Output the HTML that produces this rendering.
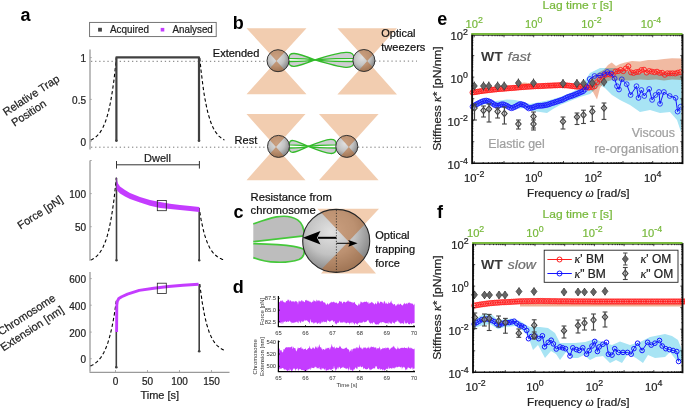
<!DOCTYPE html>
<html><head><meta charset="utf-8"><style>
html,body{margin:0;padding:0;background:#fff;}
svg{display:block;font-family:"Liberation Sans",sans-serif;}
</style></head><body>
<svg width="685" height="409" viewBox="0 0 685 409">
<defs>
<radialGradient id="gbead" cx="0.42" cy="0.36" r="0.72">
<stop offset="0" stop-color="#e2e2e2"/><stop offset="0.5" stop-color="#c2c2c2"/><stop offset="1" stop-color="#747474"/>
</radialGradient>
</defs>
<rect width="685" height="409" fill="#fff"/>
<text x="20.5" y="21.4" font-size="18" font-weight="bold" fill="#000">a</text>
<text x="232.8" y="29.0" font-size="18" font-weight="bold" fill="#000">b</text>
<text x="233.5" y="218.0" font-size="18" font-weight="bold" fill="#000">c</text>
<text x="232.8" y="293.3" font-size="18" font-weight="bold" fill="#000">d</text>
<text x="437.2" y="24.9" font-size="18" font-weight="bold" fill="#000">e</text>
<text x="437.0" y="217.8" font-size="18" font-weight="bold" fill="#000">f</text>
<rect x="89.6" y="22.4" width="126.6" height="14.2" fill="#fff" stroke="#666" stroke-width="0.9"/>
<rect x="98.1" y="27.8" width="3.8" height="3.8" fill="#444"/>
<rect x="160.7" y="27.9" width="3.6" height="3.6" fill="#c43cff"/>
<text x="110.0" y="32.8" font-size="10.0" text-anchor="start" fill="#222" font-weight="normal" font-style="normal" textLength="38.9" lengthAdjust="spacingAndGlyphs" stroke="#222" stroke-width="0.22">Acquired</text>
<text x="172.5" y="32.8" font-size="10.0" text-anchor="start" fill="#222" font-weight="normal" font-style="normal" textLength="40.3" lengthAdjust="spacingAndGlyphs" stroke="#222" stroke-width="0.22">Analysed</text>
<line x1="90.0" y1="49.4" x2="90.0" y2="149.4" stroke="#9a9a9a" stroke-width="1.3"/>
<line x1="90.0" y1="57.6" x2="91.8" y2="57.6" stroke="#9a9a9a" stroke-width="0.8"/>
<line x1="90.0" y1="99.4" x2="91.8" y2="99.4" stroke="#9a9a9a" stroke-width="0.8"/>
<line x1="90.0" y1="141.2" x2="91.8" y2="141.2" stroke="#9a9a9a" stroke-width="0.8"/>
<text x="86.0" y="62.1" font-size="10.0" text-anchor="end" fill="#222" font-weight="normal" font-style="normal" stroke="#222" stroke-width="0.22">1</text>
<text x="86.0" y="103.9" font-size="10.0" text-anchor="end" fill="#222" font-weight="normal" font-style="normal" stroke="#222" stroke-width="0.22">0.5</text>
<text x="86.0" y="145.7" font-size="10.0" text-anchor="end" fill="#222" font-weight="normal" font-style="normal" stroke="#222" stroke-width="0.22">0</text>
<line x1="90.0" y1="160.5" x2="90.0" y2="260.8" stroke="#9a9a9a" stroke-width="1.3"/>
<line x1="90.0" y1="160.5" x2="91.8" y2="160.5" stroke="#9a9a9a" stroke-width="0.8"/>
<line x1="90.0" y1="193.6" x2="91.8" y2="193.6" stroke="#9a9a9a" stroke-width="0.8"/>
<line x1="90.0" y1="226.7" x2="91.8" y2="226.7" stroke="#9a9a9a" stroke-width="0.8"/>
<text x="86.0" y="198.1" font-size="10.0" text-anchor="end" fill="#222" font-weight="normal" font-style="normal" stroke="#222" stroke-width="0.22">100</text>
<text x="86.0" y="231.2" font-size="10.0" text-anchor="end" fill="#222" font-weight="normal" font-style="normal" stroke="#222" stroke-width="0.22">50</text>
<line x1="90.0" y1="272.0" x2="90.0" y2="371.7" stroke="#9a9a9a" stroke-width="1.3"/>
<line x1="90.0" y1="278.6" x2="91.8" y2="278.6" stroke="#9a9a9a" stroke-width="0.8"/>
<line x1="90.0" y1="305.2" x2="91.8" y2="305.2" stroke="#9a9a9a" stroke-width="0.8"/>
<line x1="90.0" y1="332.1" x2="91.8" y2="332.1" stroke="#9a9a9a" stroke-width="0.8"/>
<line x1="90.0" y1="358.7" x2="91.8" y2="358.7" stroke="#9a9a9a" stroke-width="0.8"/>
<text x="86.0" y="283.1" font-size="10.0" text-anchor="end" fill="#222" font-weight="normal" font-style="normal" stroke="#222" stroke-width="0.22">600</text>
<text x="86.0" y="309.7" font-size="10.0" text-anchor="end" fill="#222" font-weight="normal" font-style="normal" stroke="#222" stroke-width="0.22">400</text>
<text x="86.0" y="336.6" font-size="10.0" text-anchor="end" fill="#222" font-weight="normal" font-style="normal" stroke="#222" stroke-width="0.22">200</text>
<text x="86.0" y="363.2" font-size="10.0" text-anchor="end" fill="#222" font-weight="normal" font-style="normal" stroke="#222" stroke-width="0.22">0</text>
<line x1="89.5" y1="372.3" x2="229.5" y2="372.3" stroke="#9a9a9a" stroke-width="1.2"/>
<line x1="115.5" y1="372" x2="115.5" y2="370" stroke="#9a9a9a" stroke-width="0.8"/>
<text x="115.5" y="385.2" font-size="10.0" text-anchor="middle" fill="#222" font-weight="normal" font-style="normal" stroke="#222" stroke-width="0.22">0</text>
<line x1="147.5" y1="372" x2="147.5" y2="370" stroke="#9a9a9a" stroke-width="0.8"/>
<text x="147.5" y="385.2" font-size="10.0" text-anchor="middle" fill="#222" font-weight="normal" font-style="normal" stroke="#222" stroke-width="0.22">50</text>
<line x1="179.5" y1="372" x2="179.5" y2="370" stroke="#9a9a9a" stroke-width="0.8"/>
<text x="179.5" y="385.2" font-size="10.0" text-anchor="middle" fill="#222" font-weight="normal" font-style="normal" stroke="#222" stroke-width="0.22">100</text>
<line x1="211.5" y1="372" x2="211.5" y2="370" stroke="#9a9a9a" stroke-width="0.8"/>
<text x="211.5" y="385.2" font-size="10.0" text-anchor="middle" fill="#222" font-weight="normal" font-style="normal" stroke="#222" stroke-width="0.22">150</text>
<text x="159.8" y="399.2" font-size="11.0" text-anchor="middle" fill="#222" font-weight="normal" font-style="normal" stroke="#222" stroke-width="0.22">Time [s]</text>
<text transform="translate(6.0,116.0) rotate(-33.0)" font-size="11.0" fill="#222" stroke="#222" stroke-width="0.22">Relative Trap</text>
<text transform="translate(14.4,126.8) rotate(-33.0)" font-size="11.0" fill="#222" stroke="#222" stroke-width="0.22">Position</text>
<text transform="translate(20.6,229.4) rotate(-33.0)" font-size="11.0" fill="#222" stroke="#222" stroke-width="0.22">Force [pN]</text>
<text transform="translate(1.0,335.8) rotate(-33.0)" font-size="11.0" fill="#222" stroke="#222" stroke-width="0.22">Chromosome</text>
<text transform="translate(3.6,351.4) rotate(-33.0)" font-size="11.0" fill="#222" stroke="#222" stroke-width="0.22">Extension [nm]</text>
<line x1="91.0" y1="61.3" x2="268.0" y2="61.3" stroke="#777" stroke-width="1" stroke-dasharray="1.3,2.8"/>
<line x1="375.0" y1="61.1" x2="417.0" y2="61.1" stroke="#777" stroke-width="1" stroke-dasharray="1.3,2.8"/>
<line x1="91.0" y1="147.2" x2="268.0" y2="147.2" stroke="#777" stroke-width="1" stroke-dasharray="1.3,2.8"/>
<line x1="358.0" y1="147.2" x2="421.0" y2="147.2" stroke="#777" stroke-width="1" stroke-dasharray="1.3,2.8"/>
<polyline points="90.8,140.0 91.4,139.7 92.1,139.4 92.7,139.0 93.3,138.7 94.0,138.3 94.6,137.8 95.3,137.4 95.9,136.9 96.5,136.3 97.2,135.7 97.8,135.0 98.5,134.3 99.1,133.6 99.7,132.8 100.4,131.9 101.0,130.9 101.6,129.8 102.3,128.7 102.9,127.5 103.5,126.2 104.2,124.7 104.8,123.2 105.5,121.5 106.1,119.6 106.7,117.6 107.4,115.5 108.0,113.2 108.7,110.7 109.3,107.9 109.9,105.0 110.6,101.8 111.2,98.3 111.8,94.6 112.5,90.5 113.1,86.1 113.8,81.3 114.4,76.2 115.0,70.6 115.7,64.6 116.3,58.0" fill="none" stroke="#000" stroke-width="1.1" stroke-dasharray="3.4,2.4"/>
<polyline points="199.8,58.0 200.4,64.4 201.0,70.3 201.7,75.8 202.3,80.8 202.9,85.5 203.5,89.8 204.1,93.9 204.7,97.6 205.4,101.0 206.0,104.2 206.6,107.2 207.2,109.9 207.8,112.4 208.4,114.8 209.1,116.9 209.7,118.9 210.3,120.8 210.9,122.5 211.5,124.1 212.2,125.6 212.8,126.9 213.4,128.2 214.0,129.4 214.6,130.4 215.2,131.4 215.9,132.4 216.5,133.2 217.1,134.0 217.7,134.8 218.3,135.4 218.9,136.1 219.6,136.7 220.2,137.2 220.8,137.7 221.4,138.2 222.0,138.6 222.6,139.0 223.3,139.3 223.9,139.7 224.5,140.0" fill="none" stroke="#000" stroke-width="1.1" stroke-dasharray="3.4,2.4"/>
<polyline points="90.8,260.0 91.4,259.7 92.1,259.4 92.7,259.0 93.3,258.7 94.0,258.3 94.6,257.8 95.3,257.3 95.9,256.8 96.5,256.3 97.2,255.7 97.8,255.0 98.5,254.3 99.1,253.5 99.7,252.7 100.4,251.8 101.0,250.8 101.6,249.8 102.3,248.6 102.9,247.4 103.5,246.1 104.2,244.6 104.8,243.0 105.5,241.3 106.1,239.5 106.7,237.5 107.4,235.4 108.0,233.0 108.7,230.5 109.3,227.7 109.9,224.8 110.6,221.5 111.2,218.1 111.8,214.3 112.5,210.2 113.1,205.8 113.8,201.0 114.4,195.8 115.0,190.2 115.7,184.1 116.3,177.5" fill="none" stroke="#000" stroke-width="1.1" stroke-dasharray="3.4,2.4"/>
<polyline points="199.8,212.0 200.4,215.7 201.0,219.2 201.7,222.4 202.3,225.4 202.9,228.1 203.5,230.6 204.1,233.0 204.7,235.2 205.4,237.2 206.0,239.1 206.6,240.8 207.2,242.4 207.8,243.9 208.4,245.2 209.1,246.5 209.7,247.7 210.3,248.8 210.9,249.8 211.5,250.7 212.2,251.6 212.8,252.4 213.4,253.1 214.0,253.8 214.6,254.4 215.2,255.0 215.9,255.5 216.5,256.0 217.1,256.5 217.7,256.9 218.3,257.3 218.9,257.7 219.6,258.0 220.2,258.4 220.8,258.6 221.4,258.9 222.0,259.2 222.6,259.4 223.3,259.6 223.9,259.8 224.5,260.0" fill="none" stroke="#000" stroke-width="1.1" stroke-dasharray="3.4,2.4"/>
<polyline points="90.4,366.0 91.0,365.7 91.7,365.4 92.3,365.1 93.0,364.7 93.6,364.3 94.3,363.9 94.9,363.4 95.6,363.0 96.2,362.4 96.9,361.9 97.5,361.3 98.2,360.6 98.8,360.0 99.5,359.2 100.1,358.4 100.8,357.6 101.4,356.6 102.1,355.6 102.7,354.6 103.3,353.4 104.0,352.2 104.6,350.9 105.3,349.5 105.9,348.0 106.6,346.3 107.2,344.6 107.9,342.7 108.5,340.6 109.2,338.4 109.8,336.1 110.5,333.6 111.1,330.9 111.8,328.0 112.4,324.8 113.1,321.5 113.7,317.9 114.4,314.0 115.0,309.8 115.7,305.3 116.3,300.5" fill="none" stroke="#000" stroke-width="1.1" stroke-dasharray="3.4,2.4"/>
<polyline points="199.8,284.0 200.4,289.3 201.1,294.1 201.7,298.6 202.3,302.8 203.0,306.6 203.6,310.2 204.2,313.4 204.8,316.5 205.5,319.3 206.1,321.9 206.7,324.3 207.4,326.5 208.0,328.5 208.6,330.4 209.2,332.2 209.9,333.8 210.5,335.3 211.1,336.6 211.8,337.9 212.4,339.1 213.0,340.2 213.7,341.2 214.3,342.1 214.9,343.0 215.6,343.8 216.2,344.5 216.8,345.2 217.4,345.8 218.1,346.4 218.7,346.9 219.3,347.4 220.0,347.9 220.6,348.3 221.2,348.7 221.8,349.1 222.5,349.4 223.1,349.7 223.7,350.0 224.4,350.3 225.0,350.5" fill="none" stroke="#000" stroke-width="1.1" stroke-dasharray="3.4,2.4"/>
<polyline points="116.4,141 116.4,57.4 199,57.4 199,141" fill="none" stroke="#404040" stroke-width="2.2" stroke-linejoin="round"/>
<circle cx="116.4" cy="140.8" r="1.3" fill="#404040"/><circle cx="199" cy="140.8" r="1.3" fill="#404040"/>
<line x1="116.5" y1="260.5" x2="116.5" y2="178" stroke="#404040" stroke-width="1.6"/>
<line x1="199.2" y1="260.5" x2="199.2" y2="208" stroke="#404040" stroke-width="1.6"/>
<circle cx="116.5" cy="260.2" r="1.2" fill="#404040"/><circle cx="199.2" cy="260.2" r="1.2" fill="#404040"/>
<line x1="116.3" y1="367.2" x2="116.3" y2="332" stroke="#404040" stroke-width="1.6"/>
<line x1="199.2" y1="351.5" x2="199.2" y2="284" stroke="#404040" stroke-width="1.6"/>
<circle cx="116.3" cy="367.2" r="1.3" fill="#404040"/><circle cx="199.2" cy="351.3" r="1.3" fill="#404040"/>
<line x1="116.5" y1="164.8" x2="199.4" y2="164.8" stroke="#333" stroke-width="1"/>
<line x1="116.5" y1="161" x2="116.5" y2="168.6" stroke="#333" stroke-width="1"/>
<line x1="199.4" y1="161" x2="199.4" y2="168.6" stroke="#333" stroke-width="1"/>
<text x="157.5" y="162.3" font-size="11.0" text-anchor="middle" fill="#222" font-weight="normal" font-style="normal" stroke="#222" stroke-width="0.22">Dwell</text>
<polygon points="116.5,176.7 117.2,181.0 118.0,183.5 120.0,186.5 125.0,190.0 130.0,193.0 140.0,197.0 150.0,200.0 160.0,202.0 170.0,203.8 180.0,205.0 190.0,206.0 199.4,207.0 199.4,212.0 190.0,211.0 180.0,210.0 170.0,209.1 160.0,207.9 150.0,205.7 140.0,202.6 130.0,199.0 125.0,196.5 120.0,193.4 118.0,191.4 116.5,189.5" fill="#c43cff"/>
<rect x="157.3" y="200.5" width="9" height="10.2" fill="none" stroke="#222" stroke-width="0.8"/>
<polyline points="116.6,332.0 116.8,305.0 117.3,301.4 118.8,298.5 121.7,296.7 127.5,294.1 139.2,290.4 153.8,288.2 168.4,286.5 183.0,285.3 198.6,284.2" fill="none" stroke="#c43cff" stroke-width="2.9" stroke-linejoin="round"/>
<rect x="157.3" y="283.2" width="9" height="10.2" fill="none" stroke="#222" stroke-width="0.8"/>
<polygon points="246.5,28.2 306.5,28.2 276.5,61.0 306.5,94.2 246.5,94.2 276.5,61.0" fill="#f2cdb0"/>
<polygon points="337.4,28.2 397.0,28.2 367.2,61.0 397.0,94.4 337.4,94.4 367.2,61.0" fill="#f2cdb0"/>
<path d="M289.0,58.3 C289.0,51.3 294.7,52.0 315.0,59.9 C307.2,58.3 296.8,58.3 289.0,58.3 Z" fill="#cfcdd2" stroke="#33bb2a" stroke-width="1.3" stroke-linejoin="round"/>
<path d="M289.0,61.5 C289.0,68.5 294.7,67.8 315.0,59.9 C307.2,61.5 296.8,61.5 289.0,61.5 Z" fill="#cfcdd2" stroke="#33bb2a" stroke-width="1.3" stroke-linejoin="round"/>
<path d="M354.0,58.3 C354.0,49.9 345.4,50.6 315.0,59.9 C326.7,58.3 342.3,58.3 354.0,58.3 Z" fill="#cfcdd2" stroke="#33bb2a" stroke-width="1.3" stroke-linejoin="round"/>
<path d="M354.0,61.5 C354.0,69.9 345.4,69.2 315.0,59.9 C326.7,61.5 342.3,61.5 354.0,61.5 Z" fill="#cfcdd2" stroke="#33bb2a" stroke-width="1.3" stroke-linejoin="round"/>
<clipPath id="bc0"><ellipse cx="278.0" cy="60.7" rx="11.0" ry="11.0"/></clipPath>
<ellipse cx="278.0" cy="60.7" rx="11.0" ry="11.0" fill="url(#gbead)"/>
<polygon clip-path="url(#bc0)" points="246.5,28.2 306.5,28.2 276.5,61.0 306.5,94.2 246.5,94.2 276.5,61.0" fill="#b8692f" fill-opacity="0.55"/>
<ellipse cx="278.0" cy="60.7" rx="11.0" ry="11.0" fill="none" stroke="#262626" stroke-width="0.9"/>
<clipPath id="bc1"><ellipse cx="363.9" cy="60.5" rx="11.0" ry="11.0"/></clipPath>
<ellipse cx="363.9" cy="60.5" rx="11.0" ry="11.0" fill="url(#gbead)"/>
<polygon clip-path="url(#bc1)" points="337.4,28.2 397.0,28.2 367.2,61.0 397.0,94.4 337.4,94.4 367.2,61.0" fill="#b8692f" fill-opacity="0.55"/>
<ellipse cx="363.9" cy="60.5" rx="11.0" ry="11.0" fill="none" stroke="#262626" stroke-width="0.9"/>
<text x="212.8" y="56.7" font-size="11.0" text-anchor="start" fill="#111" font-weight="normal" font-style="normal" stroke="#111" stroke-width="0.22">Extended</text>
<text x="381.3" y="36.6" font-size="11.0" text-anchor="start" fill="#111" font-weight="normal" font-style="normal" stroke="#111" stroke-width="0.22">Optical</text>
<text x="381.3" y="51.0" font-size="11.0" text-anchor="start" fill="#111" font-weight="normal" font-style="normal" stroke="#111" stroke-width="0.22">tweezers</text>
<polygon points="246.5,114.1 305.5,114.1 276.0,147.0 305.5,180.2 246.5,180.2 276.0,147.0" fill="#f2cdb0"/>
<polygon points="319.0,114.1 378.6,114.1 348.8,147.0 378.6,180.2 319.0,180.2 348.8,147.0" fill="#f2cdb0"/>
<path d="M289.3,144.8 C289.3,138.5 293.5,139.2 308.3,146.4 C302.6,144.8 295.0,144.8 289.3,144.8 Z" fill="#cfcdd2" stroke="#33bb2a" stroke-width="1.3" stroke-linejoin="round"/>
<path d="M289.3,148.0 C289.3,154.3 293.5,153.6 308.3,146.4 C302.6,148.0 295.0,148.0 289.3,148.0 Z" fill="#cfcdd2" stroke="#33bb2a" stroke-width="1.3" stroke-linejoin="round"/>
<path d="M336.2,144.8 C336.2,136.9 330.1,137.6 308.3,146.4 C316.7,144.8 327.8,144.8 336.2,144.8 Z" fill="#cfcdd2" stroke="#33bb2a" stroke-width="1.3" stroke-linejoin="round"/>
<path d="M336.2,148.0 C336.2,155.9 330.1,155.2 308.3,146.4 C316.7,148.0 327.8,148.0 336.2,148.0 Z" fill="#cfcdd2" stroke="#33bb2a" stroke-width="1.3" stroke-linejoin="round"/>
<clipPath id="bc2"><ellipse cx="278.5" cy="146.4" rx="11.0" ry="11.0"/></clipPath>
<ellipse cx="278.5" cy="146.4" rx="11.0" ry="11.0" fill="url(#gbead)"/>
<polygon clip-path="url(#bc2)" points="246.5,114.1 305.5,114.1 276.0,147.0 305.5,180.2 246.5,180.2 276.0,147.0" fill="#b8692f" fill-opacity="0.55"/>
<ellipse cx="278.5" cy="146.4" rx="11.0" ry="11.0" fill="none" stroke="#262626" stroke-width="0.9"/>
<clipPath id="bc3"><ellipse cx="346.8" cy="146.4" rx="11.0" ry="11.0"/></clipPath>
<ellipse cx="346.8" cy="146.4" rx="11.0" ry="11.0" fill="url(#gbead)"/>
<polygon clip-path="url(#bc3)" points="319.0,114.1 378.6,114.1 348.8,147.0 378.6,180.2 319.0,180.2 348.8,147.0" fill="#b8692f" fill-opacity="0.55"/>
<ellipse cx="346.8" cy="146.4" rx="11.0" ry="11.0" fill="none" stroke="#262626" stroke-width="0.9"/>
<text x="234.6" y="143.5" font-size="11.0" text-anchor="start" fill="#111" font-weight="normal" font-style="normal" stroke="#111" stroke-width="0.22">Rest</text>
<text x="250.6" y="200.5" font-size="11.5" text-anchor="start" fill="#111" font-weight="normal" font-style="normal" textLength="81.3" lengthAdjust="spacingAndGlyphs" stroke="#111" stroke-width="0.22">Resistance from</text>
<text x="250.6" y="214.2" font-size="11.5" text-anchor="start" fill="#111" font-weight="normal" font-style="normal" textLength="65.2" lengthAdjust="spacingAndGlyphs" stroke="#111" stroke-width="0.22">chromosome</text>
<polygon points="317.4,208.8 379.0,208.8 348.5,241.5 376.0,273.4 321.0,273.4 348.5,241.5" fill="#f2cdb0"/>
<path d="M253.3,223.9 C258,222.3 266,219.2 276.4,216.9 C283,215.8 292,216.2 297.6,219.9 C301.5,222.5 304.2,228 304.2,235.8 C296,236.6 280,238.6 253.3,241.7 Z" fill="#bdbdbd"/>
<path d="M253.3,243.7 C270,244.1 285,245 293.6,246.4 C298,247.2 302,248.2 304.2,249.6 C304.6,254 303.5,257.5 299,259.5 C292,262 282,262.4 276.4,262.2 C268,262 262,261 253.3,257.6 Z" fill="#bdbdbd"/>
<path d="M253.3,223.9 C258,222.3 266,219.2 276.4,216.9 C283,215.8 292,216.2 297.6,219.9 C301.5,222.5 304.2,228 304.2,235.8 C296,236.6 280,238.6 253.3,241.7" fill="none" stroke="#45c83a" stroke-width="1.7" stroke-linejoin="round"/>
<path d="M253.3,243.7 C270,244.1 285,245 293.6,246.4 C298,247.2 302,248.2 304.2,249.6 C304.6,254 303.5,257.5 299,259.5 C292,262 282,262.4 276.4,262.2 C268,262 262,261 253.3,257.6" fill="none" stroke="#45c83a" stroke-width="1.7" stroke-linejoin="round"/>
<clipPath id="bc4"><ellipse cx="336.2" cy="240.9" rx="33.5" ry="31.5"/></clipPath>
<ellipse cx="336.2" cy="240.9" rx="33.5" ry="31.5" fill="url(#gbead)"/>
<polygon clip-path="url(#bc4)" points="317.5,208.8 379.5,208.8 348.5,241.5 379.5,273.4 317.5,273.4 348.5,241.5" fill="#b8692f" fill-opacity="0.55"/>
<ellipse cx="336.2" cy="240.9" rx="33.5" ry="31.5" fill="none" stroke="#262626" stroke-width="1.1"/>
<line x1="336.4" y1="210" x2="336.4" y2="272" stroke="#222" stroke-width="0.8" stroke-dasharray="1.2,1.6"/>
<line x1="336.4" y1="237.8" x2="318" y2="237.8" stroke="#000" stroke-width="2"/>
<polygon points="302.8,237.8 320.5,231 317,237.8 320.5,244.6" fill="#000"/>
<line x1="336.4" y1="243.3" x2="350" y2="243.3" stroke="#000" stroke-width="1"/>
<polygon points="357.6,243.3 348.3,239.9 349.8,243.3 348.3,246.7" fill="#000"/>
<text x="375.3" y="239.1" font-size="11.0" text-anchor="start" fill="#111" font-weight="normal" font-style="normal" stroke="#111" stroke-width="0.22">Optical</text>
<text x="375.3" y="252.8" font-size="11.0" text-anchor="start" fill="#111" font-weight="normal" font-style="normal" stroke="#111" stroke-width="0.22">trapping</text>
<text x="375.3" y="266.5" font-size="11.0" text-anchor="start" fill="#111" font-weight="normal" font-style="normal" stroke="#111" stroke-width="0.22">force</text>
<polygon points="278.7,298.6 279.1,302.2 279.6,301.9 280.0,301.7 280.5,300.4 280.9,300.7 281.4,301.4 281.8,300.2 282.3,300.1 282.7,301.3 283.2,301.5 283.6,301.8 284.1,302.6 284.5,301.8 285.0,302.9 285.4,302.5 285.9,301.4 286.3,301.0 286.8,300.9 287.2,301.3 287.7,299.3 288.1,300.5 288.6,299.8 289.0,299.2 289.5,302.0 289.9,300.8 290.4,300.3 290.8,300.6 291.3,301.4 291.7,301.6 292.2,301.7 292.6,301.1 293.1,301.8 293.5,301.6 294.0,300.7 294.4,302.6 294.9,301.2 295.3,300.8 295.8,301.8 296.2,300.8 296.7,301.7 297.1,302.1 297.6,302.3 298.0,304.8 298.5,301.7 298.9,300.5 299.4,301.9 299.8,300.5 300.3,301.6 300.7,301.6 301.2,301.2 301.6,300.0 302.1,300.1 302.5,301.6 303.0,301.2 303.4,300.9 303.9,301.9 304.3,302.1 304.8,302.3 305.2,300.1 305.7,300.2 306.1,300.5 306.6,299.5 307.0,301.0 307.5,300.3 307.9,300.9 308.4,300.6 308.8,301.4 309.3,301.1 309.7,301.9 310.2,301.5 310.6,301.8 311.1,302.7 311.5,302.5 312.0,302.1 312.4,301.2 312.9,302.1 313.3,301.5 313.8,299.5 314.2,300.7 314.7,300.8 315.1,301.7 315.6,301.2 316.0,300.8 316.5,299.3 316.9,301.9 317.4,300.6 317.8,300.5 318.3,300.0 318.7,301.1 319.2,301.4 319.6,300.0 320.1,301.2 320.5,301.2 321.0,302.0 321.4,301.2 321.9,300.5 322.3,300.8 322.8,301.2 323.2,301.9 323.7,302.5 324.1,302.4 324.6,302.4 325.0,302.4 325.5,303.6 325.9,304.5 326.4,304.3 326.8,305.3 327.3,303.0 327.7,303.4 328.2,304.1 328.6,304.9 329.1,303.4 329.5,303.5 330.0,303.2 330.4,302.0 330.9,303.1 331.3,302.2 331.8,301.6 332.2,302.2 332.7,302.3 333.1,302.3 333.6,301.6 334.0,301.8 334.5,302.3 334.9,302.7 335.4,302.8 335.8,302.7 336.3,302.5 336.7,302.5 337.2,303.5 337.6,303.7 338.1,303.0 338.5,303.4 339.0,302.0 339.4,300.9 339.9,301.1 340.3,302.3 340.8,301.1 341.2,301.6 341.7,301.7 342.1,302.9 342.6,303.7 343.0,302.3 343.5,302.0 343.9,301.5 344.4,301.7 344.8,302.0 345.3,302.5 345.7,302.5 346.2,302.1 346.6,301.7 347.1,301.2 347.5,301.5 348.0,299.9 348.4,301.9 348.9,300.1 349.3,302.0 349.8,301.6 350.2,301.4 350.7,301.9 351.1,302.0 351.6,302.4 352.0,302.1 352.5,302.2 352.9,303.5 353.4,302.6 353.8,302.4 354.3,302.3 354.7,301.7 355.2,303.8 355.6,303.9 356.1,304.6 356.5,305.0 357.0,305.1 357.4,305.4 357.9,305.9 358.3,304.8 358.8,303.0 359.2,305.4 359.7,303.5 360.1,304.1 360.6,301.7 361.0,301.3 361.5,302.6 361.9,301.9 362.4,302.2 362.8,302.9 363.3,302.2 363.7,301.9 364.2,301.9 364.6,301.4 365.1,301.9 365.5,302.1 366.0,301.6 366.4,301.6 366.9,301.7 367.3,302.1 367.8,302.9 368.2,301.5 368.7,304.0 369.1,303.4 369.6,303.5 370.0,302.2 370.5,303.2 370.9,302.7 371.4,302.3 371.8,301.7 372.3,301.9 372.7,302.9 373.2,303.6 373.6,302.8 374.1,304.4 374.5,304.3 375.0,304.0 375.4,303.2 375.9,302.5 376.3,304.4 376.8,303.8 377.2,303.0 377.7,301.0 378.1,301.1 378.6,302.3 379.0,303.1 379.5,303.8 379.9,302.4 380.4,301.6 380.8,301.8 381.3,301.7 381.7,302.0 382.2,302.4 382.6,302.2 383.1,303.9 383.5,303.1 384.0,301.3 384.4,300.7 384.9,302.3 385.3,302.5 385.8,303.9 386.2,303.8 386.7,302.3 387.1,304.0 387.6,303.9 388.0,303.0 388.5,301.4 388.9,303.9 389.4,302.7 389.8,303.3 390.3,302.5 390.7,301.7 391.2,300.3 391.6,302.5 392.1,303.3 392.5,303.5 393.0,303.9 393.4,304.6 393.9,304.7 394.3,304.0 394.8,304.1 395.2,304.8 395.7,306.4 396.1,305.0 396.6,306.0 397.0,303.7 397.5,304.2 397.9,305.1 398.4,303.0 398.8,305.0 399.3,304.4 399.7,304.4 400.2,303.9 400.6,303.6 401.1,304.3 401.5,305.1 402.0,305.2 402.4,305.4 402.9,305.2 403.3,304.5 403.8,303.8 404.2,303.8 404.7,302.4 405.1,303.9 405.6,304.3 406.0,303.1 406.5,303.5 406.9,303.5 407.4,304.4 407.8,302.7 408.3,302.7 408.7,303.0 409.2,302.0 409.6,303.0 410.1,303.5 410.5,303.2 411.0,303.1 411.4,303.4 411.9,303.7 412.3,303.5 412.8,303.8 413.2,304.4 413.7,305.5 414.1,303.4 414.6,305.1 414.6,323.0 414.1,323.0 413.7,323.3 413.2,323.2 412.8,323.3 412.3,323.1 411.9,324.2 411.4,324.3 411.0,323.3 410.5,323.0 410.1,323.9 409.6,323.9 409.2,324.8 408.7,323.7 408.3,324.3 407.8,322.6 407.4,322.6 406.9,323.6 406.5,323.8 406.0,322.7 405.6,322.7 405.1,323.9 404.7,323.1 404.2,320.1 403.8,324.2 403.3,324.0 402.9,323.0 402.4,323.4 402.0,323.1 401.5,323.8 401.1,323.1 400.6,323.2 400.2,324.3 399.7,322.6 399.3,322.5 398.8,322.4 398.4,321.1 397.9,321.8 397.5,320.8 397.0,319.9 396.6,321.7 396.1,322.0 395.7,322.4 395.2,321.4 394.8,323.1 394.3,324.1 393.9,322.9 393.4,322.7 393.0,323.0 392.5,321.2 392.1,323.1 391.6,323.5 391.2,323.9 390.7,323.8 390.3,322.8 389.8,323.5 389.4,322.6 388.9,321.6 388.5,323.4 388.0,324.2 387.6,323.0 387.1,322.7 386.7,323.5 386.2,322.9 385.8,323.2 385.3,323.3 384.9,322.9 384.4,322.4 384.0,322.8 383.5,322.3 383.1,322.1 382.6,322.3 382.2,321.9 381.7,322.0 381.3,323.4 380.8,323.0 380.4,321.7 379.9,323.1 379.5,323.5 379.0,323.3 378.6,324.8 378.1,324.6 377.7,324.3 377.2,324.3 376.8,325.2 376.3,323.9 375.9,324.0 375.4,324.5 375.0,324.1 374.5,322.9 374.1,322.3 373.6,322.3 373.2,322.5 372.7,322.9 372.3,324.5 371.8,322.5 371.4,323.3 370.9,323.6 370.5,324.1 370.0,322.6 369.6,323.1 369.1,322.2 368.7,321.2 368.2,320.1 367.8,320.3 367.3,320.6 366.9,321.0 366.4,321.7 366.0,322.3 365.5,321.9 365.1,321.8 364.6,322.3 364.2,322.6 363.7,322.1 363.3,321.0 362.8,322.6 362.4,322.5 361.9,322.5 361.5,323.0 361.0,322.6 360.6,323.2 360.1,322.3 359.7,323.4 359.2,321.7 358.8,323.0 358.3,323.2 357.9,323.2 357.4,324.9 357.0,324.3 356.5,323.8 356.1,323.6 355.6,322.8 355.2,323.0 354.7,325.1 354.3,323.9 353.8,323.3 353.4,323.2 352.9,322.0 352.5,322.3 352.0,324.5 351.6,322.6 351.1,322.5 350.7,322.5 350.2,323.5 349.8,322.8 349.3,325.0 348.9,322.8 348.4,322.7 348.0,322.7 347.5,322.6 347.1,322.7 346.6,323.8 346.2,323.0 345.7,322.3 345.3,323.5 344.8,321.6 344.4,322.7 343.9,322.8 343.5,321.6 343.0,322.7 342.6,322.3 342.1,322.7 341.7,322.6 341.2,322.6 340.8,322.5 340.3,322.7 339.9,321.8 339.4,320.6 339.0,322.9 338.5,322.3 338.1,323.1 337.6,322.5 337.2,323.1 336.7,324.8 336.3,323.5 335.8,324.2 335.4,323.1 334.9,323.6 334.5,320.8 334.0,321.5 333.6,322.1 333.1,321.6 332.7,320.5 332.2,320.2 331.8,320.0 331.3,321.0 330.9,321.0 330.4,321.5 330.0,321.5 329.5,322.3 329.1,320.9 328.6,320.7 328.2,320.9 327.7,320.6 327.3,319.6 326.8,323.8 326.4,321.5 325.9,321.9 325.5,322.0 325.0,321.6 324.6,322.6 324.1,321.7 323.7,322.5 323.2,320.8 322.8,322.0 322.3,322.7 321.9,320.9 321.4,323.2 321.0,322.3 320.5,323.7 320.1,324.0 319.6,323.7 319.2,322.0 318.7,323.4 318.3,322.5 317.8,323.5 317.4,324.1 316.9,323.5 316.5,322.8 316.0,321.8 315.6,322.5 315.1,323.1 314.7,323.4 314.2,322.2 313.8,324.3 313.3,322.6 312.9,322.7 312.4,322.2 312.0,322.0 311.5,322.5 311.1,322.4 310.6,318.7 310.2,321.2 309.7,322.7 309.3,323.9 308.8,322.0 308.4,321.9 307.9,321.5 307.5,320.9 307.0,320.6 306.6,319.8 306.1,321.0 305.7,320.9 305.2,320.1 304.8,319.8 304.3,321.0 303.9,321.0 303.4,321.7 303.0,321.8 302.5,321.9 302.1,321.3 301.6,320.8 301.2,322.3 300.7,322.9 300.3,322.6 299.8,322.3 299.4,321.2 298.9,320.6 298.5,323.1 298.0,323.3 297.6,321.5 297.1,322.7 296.7,322.1 296.2,321.4 295.8,322.2 295.3,322.5 294.9,321.8 294.4,322.9 294.0,322.8 293.5,322.5 293.1,323.2 292.6,322.8 292.2,322.4 291.7,323.8 291.3,321.8 290.8,322.4 290.4,321.6 289.9,321.5 289.5,320.6 289.0,321.4 288.6,322.1 288.1,321.6 287.7,321.3 287.2,321.7 286.8,322.1 286.3,321.9 285.9,322.5 285.4,321.0 285.0,321.1 284.5,321.9 284.1,321.9 283.6,321.4 283.2,323.7 282.7,321.3 282.3,323.7 281.8,324.1 281.4,322.1 280.9,322.2 280.5,323.6 280.0,322.5 279.6,322.8 279.1,322.6 278.7,322.3" fill="#c43cff"/>
<polygon points="278.7,347.8 279.1,348.6 279.6,348.6 280.0,350.1 280.5,350.8 280.9,350.1 281.4,349.9 281.8,351.7 282.3,351.7 282.7,352.7 283.2,351.4 283.6,349.0 284.1,349.1 284.5,349.8 285.0,348.2 285.4,347.7 285.9,347.6 286.3,347.1 286.8,347.6 287.2,347.1 287.7,347.8 288.1,347.1 288.6,347.3 289.0,347.6 289.5,346.9 289.9,347.5 290.4,347.0 290.8,347.4 291.3,346.5 291.7,346.8 292.2,346.3 292.6,349.3 293.1,347.8 293.5,346.6 294.0,348.2 294.4,348.0 294.9,348.3 295.3,348.0 295.8,350.1 296.2,351.5 296.7,350.8 297.1,349.7 297.6,348.4 298.0,347.1 298.5,348.4 298.9,348.0 299.4,348.1 299.8,347.9 300.3,347.4 300.7,347.6 301.2,346.5 301.6,348.8 302.1,348.7 302.5,348.7 303.0,348.1 303.4,350.1 303.9,349.0 304.3,349.1 304.8,349.2 305.2,348.6 305.7,348.4 306.1,349.7 306.6,350.0 307.0,349.7 307.5,348.7 307.9,349.1 308.4,348.0 308.8,348.1 309.3,347.6 309.7,345.6 310.2,348.0 310.6,348.7 311.1,348.5 311.5,349.2 312.0,349.0 312.4,347.9 312.9,347.2 313.3,348.5 313.8,347.0 314.2,348.8 314.7,348.9 315.1,347.0 315.6,346.0 316.0,348.2 316.5,346.2 316.9,348.0 317.4,348.5 317.8,346.0 318.3,347.8 318.7,346.6 319.2,344.0 319.6,345.5 320.1,347.2 320.5,347.5 321.0,346.7 321.4,348.5 321.9,348.7 322.3,350.4 322.8,348.6 323.2,349.0 323.7,348.9 324.1,349.4 324.6,350.2 325.0,348.5 325.5,349.7 325.9,347.5 326.4,348.2 326.8,349.0 327.3,348.3 327.7,347.8 328.2,348.0 328.6,347.9 329.1,347.3 329.5,348.9 330.0,349.7 330.4,347.8 330.9,347.2 331.3,346.1 331.8,343.8 332.2,346.1 332.7,347.1 333.1,347.6 333.6,347.4 334.0,346.7 334.5,346.4 334.9,348.8 335.4,348.6 335.8,348.0 336.3,347.6 336.7,347.2 337.2,347.8 337.6,347.7 338.1,348.0 338.5,347.9 339.0,347.5 339.4,346.8 339.9,345.6 340.3,346.6 340.8,346.9 341.2,348.1 341.7,348.3 342.1,349.0 342.6,348.2 343.0,349.2 343.5,348.5 343.9,349.0 344.4,348.4 344.8,348.5 345.3,347.9 345.7,347.8 346.2,347.8 346.6,347.2 347.1,348.3 347.5,349.3 348.0,348.9 348.4,349.4 348.9,349.5 349.3,350.6 349.8,352.5 350.2,350.4 350.7,350.7 351.1,348.7 351.6,349.8 352.0,352.1 352.5,348.8 352.9,349.4 353.4,348.6 353.8,348.5 354.3,348.9 354.7,348.0 355.2,347.7 355.6,348.7 356.1,348.4 356.5,347.1 357.0,347.6 357.4,347.2 357.9,348.4 358.3,348.3 358.8,347.7 359.2,344.1 359.7,346.4 360.1,347.5 360.6,348.1 361.0,346.9 361.5,348.5 361.9,348.7 362.4,349.4 362.8,348.1 363.3,348.5 363.7,347.3 364.2,347.3 364.6,347.7 365.1,348.2 365.5,347.3 366.0,347.4 366.4,348.4 366.9,348.6 367.3,347.9 367.8,347.5 368.2,346.3 368.7,348.3 369.1,347.1 369.6,348.9 370.0,347.9 370.5,346.4 370.9,348.0 371.4,346.2 371.8,346.8 372.3,346.9 372.7,347.2 373.2,346.6 373.6,347.1 374.1,347.9 374.5,347.5 375.0,346.9 375.4,347.2 375.9,347.9 376.3,347.6 376.8,349.8 377.2,348.2 377.7,348.2 378.1,348.3 378.6,348.5 379.0,347.8 379.5,346.3 379.9,348.6 380.4,348.6 380.8,350.6 381.3,349.1 381.7,349.0 382.2,349.1 382.6,347.6 383.1,348.9 383.5,348.0 384.0,348.0 384.4,348.3 384.9,348.1 385.3,348.7 385.8,346.9 386.2,348.5 386.7,347.7 387.1,347.5 387.6,347.9 388.0,347.3 388.5,348.6 388.9,347.4 389.4,349.3 389.8,350.2 390.3,348.5 390.7,348.6 391.2,347.7 391.6,347.4 392.1,347.9 392.5,346.6 393.0,347.2 393.4,345.4 393.9,346.8 394.3,346.6 394.8,348.1 395.2,348.3 395.7,348.4 396.1,348.8 396.6,349.8 397.0,348.4 397.5,348.6 397.9,345.9 398.4,349.3 398.8,347.7 399.3,349.3 399.7,348.5 400.2,348.6 400.6,348.0 401.1,347.8 401.5,347.8 402.0,348.2 402.4,347.6 402.9,348.0 403.3,347.8 403.8,348.2 404.2,347.3 404.7,347.6 405.1,348.0 405.6,348.1 406.0,347.9 406.5,348.2 406.9,347.5 407.4,347.8 407.8,349.1 408.3,346.1 408.7,347.6 409.2,347.5 409.6,348.5 410.1,348.1 410.5,347.3 411.0,349.3 411.4,347.7 411.9,347.9 412.3,348.7 412.8,348.8 413.2,349.5 413.7,348.8 414.1,349.3 414.6,347.9 414.6,368.9 414.1,368.3 413.7,368.6 413.2,369.3 412.8,369.7 412.3,367.4 411.9,366.9 411.4,368.2 411.0,368.6 410.5,368.8 410.1,368.7 409.6,367.7 409.2,368.2 408.7,368.0 408.3,367.0 407.8,367.6 407.4,368.4 406.9,370.2 406.5,368.8 406.0,369.7 405.6,370.4 405.1,368.5 404.7,367.6 404.2,367.3 403.8,367.5 403.3,366.4 402.9,368.2 402.4,367.0 402.0,369.8 401.5,366.3 401.1,367.3 400.6,367.5 400.2,367.0 399.7,366.6 399.3,367.1 398.8,366.8 398.4,366.7 397.9,367.0 397.5,367.4 397.0,366.9 396.6,366.5 396.1,367.8 395.7,367.5 395.2,367.6 394.8,367.5 394.3,368.8 393.9,368.3 393.4,368.2 393.0,367.6 392.5,368.0 392.1,368.8 391.6,368.7 391.2,368.3 390.7,367.9 390.3,368.3 389.8,368.6 389.4,368.6 388.9,368.7 388.5,366.2 388.0,369.6 387.6,368.6 387.1,369.0 386.7,368.4 386.2,368.9 385.8,369.7 385.3,369.4 384.9,370.6 384.4,370.4 384.0,370.5 383.5,368.8 383.1,370.2 382.6,370.4 382.2,369.5 381.7,369.1 381.3,369.2 380.8,368.8 380.4,369.9 379.9,369.8 379.5,367.8 379.0,369.2 378.6,369.2 378.1,369.1 377.7,369.1 377.2,368.4 376.8,367.1 376.3,365.9 375.9,366.2 375.4,366.4 375.0,369.0 374.5,368.1 374.1,368.4 373.6,368.6 373.2,367.9 372.7,369.0 372.3,368.5 371.8,369.9 371.4,369.3 370.9,369.3 370.5,369.7 370.0,370.4 369.6,369.6 369.1,368.8 368.7,367.6 368.2,368.6 367.8,369.3 367.3,369.0 366.9,368.9 366.4,369.6 366.0,369.6 365.5,368.9 365.1,369.1 364.6,368.2 364.2,368.0 363.7,369.3 363.3,368.5 362.8,366.4 362.4,366.5 361.9,367.6 361.5,366.9 361.0,367.3 360.6,366.8 360.1,365.6 359.7,367.4 359.2,366.6 358.8,367.0 358.3,367.1 357.9,366.1 357.4,368.8 357.0,369.1 356.5,368.2 356.1,368.7 355.6,367.1 355.2,368.0 354.7,369.1 354.3,369.8 353.8,369.1 353.4,370.4 352.9,370.4 352.5,371.3 352.0,370.6 351.6,370.1 351.1,369.6 350.7,370.6 350.2,369.4 349.8,366.6 349.3,369.5 348.9,369.3 348.4,371.3 348.0,368.5 347.5,368.3 347.1,368.6 346.6,368.4 346.2,369.3 345.7,368.9 345.3,367.8 344.8,368.2 344.4,367.7 343.9,367.9 343.5,366.4 343.0,368.2 342.6,367.4 342.1,366.7 341.7,368.1 341.2,368.1 340.8,368.4 340.3,368.9 339.9,367.7 339.4,366.8 339.0,367.3 338.5,369.4 338.1,366.4 337.6,368.1 337.2,368.7 336.7,369.3 336.3,369.4 335.8,371.3 335.4,370.3 334.9,368.1 334.5,369.0 334.0,365.6 333.6,368.5 333.1,369.1 332.7,368.8 332.2,369.2 331.8,369.0 331.3,371.0 330.9,369.4 330.4,370.3 330.0,368.9 329.5,369.3 329.1,369.8 328.6,369.4 328.2,370.4 327.7,369.8 327.3,370.3 326.8,370.3 326.4,370.8 325.9,371.0 325.5,368.1 325.0,370.4 324.6,369.5 324.1,369.0 323.7,368.6 323.2,368.6 322.8,369.0 322.3,368.3 321.9,367.6 321.4,370.3 321.0,369.0 320.5,369.8 320.1,369.3 319.6,368.8 319.2,366.8 318.7,368.3 318.3,368.5 317.8,367.9 317.4,368.2 316.9,368.8 316.5,367.0 316.0,367.5 315.6,366.9 315.1,366.4 314.7,367.1 314.2,368.3 313.8,368.2 313.3,368.1 312.9,368.1 312.4,367.7 312.0,368.3 311.5,368.4 311.1,367.1 310.6,369.0 310.2,370.2 309.7,368.9 309.3,368.6 308.8,369.1 308.4,369.3 307.9,370.9 307.5,369.3 307.0,369.7 306.6,371.1 306.1,370.4 305.7,372.0 305.2,370.8 304.8,371.0 304.3,370.9 303.9,370.1 303.4,370.4 303.0,370.3 302.5,370.0 302.1,370.2 301.6,369.7 301.2,370.4 300.7,369.0 300.3,369.1 299.8,369.4 299.4,368.8 298.9,369.2 298.5,371.4 298.0,369.8 297.6,368.7 297.1,368.1 296.7,369.2 296.2,368.9 295.8,369.6 295.3,371.4 294.9,368.4 294.4,368.7 294.0,368.4 293.5,369.0 293.1,368.2 292.6,371.6 292.2,369.8 291.7,372.2 291.3,372.4 290.8,369.8 290.4,369.9 289.9,368.3 289.5,371.1 289.0,370.3 288.6,369.8 288.1,371.1 287.7,370.9 287.2,370.8 286.8,370.2 286.3,370.2 285.9,369.1 285.4,369.6 285.0,370.6 284.5,369.1 284.1,369.7 283.6,368.9 283.2,368.1 282.7,367.9 282.3,368.1 281.8,368.5 281.4,368.5 280.9,368.9 280.5,368.7 280.0,368.3 279.6,370.1 279.1,368.1 278.7,369.6" fill="#c43cff"/>
<polyline points="278.4,296.0 278.4,326.6 415,326.6" fill="none" stroke="#000" stroke-width="1.2"/>
<line x1="278.4" y1="298.3" x2="279.9" y2="298.3" stroke="#000" stroke-width="0.8"/>
<text x="276.1" y="300.3" font-size="5.8" text-anchor="end" fill="#333" font-weight="normal" font-style="normal">87.5</text>
<line x1="278.4" y1="310.2" x2="279.9" y2="310.2" stroke="#000" stroke-width="0.8"/>
<text x="276.1" y="312.2" font-size="5.8" text-anchor="end" fill="#333" font-weight="normal" font-style="normal">85.0</text>
<line x1="278.4" y1="321.7" x2="279.9" y2="321.7" stroke="#000" stroke-width="0.8"/>
<text x="276.1" y="323.7" font-size="5.8" text-anchor="end" fill="#333" font-weight="normal" font-style="normal">82.5</text>
<line x1="278.4" y1="326.6" x2="278.4" y2="325.1" stroke="#000" stroke-width="0.8"/>
<text x="278.4" y="334.9" font-size="5.8" text-anchor="middle" fill="#333" font-weight="normal" font-style="normal">65</text>
<line x1="305.5" y1="326.6" x2="305.5" y2="325.1" stroke="#000" stroke-width="0.8"/>
<text x="305.5" y="334.9" font-size="5.8" text-anchor="middle" fill="#333" font-weight="normal" font-style="normal">66</text>
<line x1="332.6" y1="326.6" x2="332.6" y2="325.1" stroke="#000" stroke-width="0.8"/>
<text x="332.6" y="334.9" font-size="5.8" text-anchor="middle" fill="#333" font-weight="normal" font-style="normal">67</text>
<line x1="359.7" y1="326.6" x2="359.7" y2="325.1" stroke="#000" stroke-width="0.8"/>
<text x="359.7" y="334.9" font-size="5.8" text-anchor="middle" fill="#333" font-weight="normal" font-style="normal">68</text>
<line x1="386.8" y1="326.6" x2="386.8" y2="325.1" stroke="#000" stroke-width="0.8"/>
<text x="386.8" y="334.9" font-size="5.8" text-anchor="middle" fill="#333" font-weight="normal" font-style="normal">69</text>
<line x1="413.9" y1="326.6" x2="413.9" y2="325.1" stroke="#000" stroke-width="0.8"/>
<text x="413.9" y="334.9" font-size="5.8" text-anchor="middle" fill="#333" font-weight="normal" font-style="normal">70</text>
<polyline points="278.4,340.6 278.4,371.7 415,371.7" fill="none" stroke="#000" stroke-width="1.2"/>
<line x1="278.4" y1="341.6" x2="279.9" y2="341.6" stroke="#000" stroke-width="0.8"/>
<text x="276.1" y="343.6" font-size="5.8" text-anchor="end" fill="#333" font-weight="normal" font-style="normal">540</text>
<line x1="278.4" y1="354.0" x2="279.9" y2="354.0" stroke="#000" stroke-width="0.8"/>
<text x="276.1" y="356.0" font-size="5.8" text-anchor="end" fill="#333" font-weight="normal" font-style="normal">520</text>
<line x1="278.4" y1="366.3" x2="279.9" y2="366.3" stroke="#000" stroke-width="0.8"/>
<text x="276.1" y="368.3" font-size="5.8" text-anchor="end" fill="#333" font-weight="normal" font-style="normal">500</text>
<line x1="278.4" y1="371.7" x2="278.4" y2="370.2" stroke="#000" stroke-width="0.8"/>
<text x="278.4" y="380.0" font-size="5.8" text-anchor="middle" fill="#333" font-weight="normal" font-style="normal">65</text>
<line x1="305.5" y1="371.7" x2="305.5" y2="370.2" stroke="#000" stroke-width="0.8"/>
<text x="305.5" y="380.0" font-size="5.8" text-anchor="middle" fill="#333" font-weight="normal" font-style="normal">66</text>
<line x1="332.6" y1="371.7" x2="332.6" y2="370.2" stroke="#000" stroke-width="0.8"/>
<text x="332.6" y="380.0" font-size="5.8" text-anchor="middle" fill="#333" font-weight="normal" font-style="normal">67</text>
<line x1="359.7" y1="371.7" x2="359.7" y2="370.2" stroke="#000" stroke-width="0.8"/>
<text x="359.7" y="380.0" font-size="5.8" text-anchor="middle" fill="#333" font-weight="normal" font-style="normal">68</text>
<line x1="386.8" y1="371.7" x2="386.8" y2="370.2" stroke="#000" stroke-width="0.8"/>
<text x="386.8" y="380.0" font-size="5.8" text-anchor="middle" fill="#333" font-weight="normal" font-style="normal">69</text>
<line x1="413.9" y1="371.7" x2="413.9" y2="370.2" stroke="#000" stroke-width="0.8"/>
<text x="413.9" y="380.0" font-size="5.8" text-anchor="middle" fill="#333" font-weight="normal" font-style="normal">70</text>
<text x="346.9" y="386.5" font-size="5.9" text-anchor="middle" fill="#333" font-weight="normal" font-style="normal">Time [s]</text>
<text transform="translate(263.7,311.5) rotate(-90)" font-size="5.9" text-anchor="middle" fill="#333">Force [pN]</text>
<text transform="translate(257.4,356.9) rotate(-90)" font-size="5.9" text-anchor="middle" fill="#333">Chromosome</text>
<text transform="translate(263.9,356.5) rotate(-90)" font-size="5.9" text-anchor="middle" fill="#333">Extension [nm]</text>
<polygon points="472.0,104.0 480.0,100.0 488.0,98.5 495.0,101.0 500.0,100.5 507.0,99.5 515.0,100.0 522.0,101.5 530.0,104.0 540.0,102.0 550.0,100.0 560.0,97.0 570.0,93.0 580.0,88.0 590.0,73.0 600.0,68.0 615.0,68.0 625.0,71.0 640.0,73.0 655.0,74.0 670.0,73.0 682.0,74.0 681.0,132.0 677.0,120.0 670.0,112.0 660.0,113.0 650.0,110.0 640.0,112.0 630.0,105.0 620.0,100.0 612.0,95.0 605.0,88.0 600.0,85.0 590.0,94.0 580.0,97.0 570.0,101.0 560.0,105.0 553.0,109.0 547.0,113.0 540.0,112.0 533.0,111.0 525.0,108.0 515.0,109.0 505.0,108.0 495.0,107.0 485.0,104.0 472.0,109.0" fill="#a8e4f4"/>
<polygon points="589.0,80.0 596.0,74.0 604.0,69.7 608.0,65.0 611.7,62.5 616.0,66.0 620.0,64.0 625.0,62.5 632.0,61.0 640.0,61.5 648.0,60.0 656.0,60.0 664.0,59.0 672.0,58.3 682.0,58.5 682.0,80.0 672.0,79.5 664.0,80.5 656.0,79.5 648.0,80.0 640.0,79.5 630.0,80.5 620.0,80.5 612.0,80.0 605.0,82.0 600.0,88.0 597.0,99.5 593.0,92.0 589.0,88.0" fill="#eeae92" fill-opacity="0.85" style="mix-blend-mode:multiply"/>
<polygon points="518,84 524,82.5 532,83.5 532,86 518,87" fill="#eeae92"/>
<polyline points="472.5,92.5 474.2,92.2 475.9,92.0 477.6,91.7 479.3,91.4 481.0,91.2 482.7,90.9 484.4,90.7 486.1,90.5 487.8,90.3 489.5,90.1 491.2,89.9 492.9,89.7 494.6,89.5 496.3,89.4 498.0,89.2 499.7,89.0 501.4,88.9 503.1,88.8 504.8,88.6 506.5,88.5 508.2,88.3 509.9,88.2 511.6,88.1 513.3,87.9 515.0,87.8 516.7,87.6 518.4,87.5 520.1,87.3 521.8,87.2 523.5,87.1 525.2,86.9 526.9,86.8 528.6,86.7 530.3,86.6 532.0,86.5 533.7,86.4 535.4,86.3 537.1,86.2 538.8,86.2 540.5,86.1 542.2,86.0 543.9,85.9 545.6,85.8 547.3,85.7 549.0,85.6 550.7,85.6 552.4,85.5 554.1,85.4 555.8,85.4 557.5,85.3 559.2,85.2 560.9,85.2 562.6,85.3 564.3,85.4 566.0,85.4 567.7,85.5 569.4,85.7 571.1,85.9 572.8,86.2 574.5,86.4 576.2,86.6 577.9,86.6 579.6,86.7 581.3,86.8 583.0,87.0 584.7,87.2 586.4,87.3 588.1,87.5 589.4,87.5 592.0,87.0 594.6,86.3 597.2,82.2 599.8,79.7 602.4,78.0 605.0,75.0 607.6,74.3 610.2,74.6 612.8,74.7 615.4,71.5 618.0,71.2 620.6,69.9 623.2,71.2 625.8,68.5 628.4,66.3 631.0,72.4 633.6,73.0 636.2,72.1 638.8,71.8 641.4,70.0 644.0,69.7 646.6,72.6 649.2,71.0 651.8,71.6 654.4,72.2 657.0,71.7 659.6,72.9 662.2,72.8 664.8,74.8 667.4,73.3 670.0,73.4 672.6,73.3 675.2,73.5 677.8,72.7 680.4,72.1" fill="none" stroke="#ff1e1e" stroke-width="1"/>
<g fill="none" stroke="#ff1e1e" stroke-width="0.9">
<circle cx="472.5" cy="92.5" r="2.5"/>
<circle cx="474.2" cy="92.2" r="2.5"/>
<circle cx="475.9" cy="92.0" r="2.5"/>
<circle cx="477.6" cy="91.7" r="2.5"/>
<circle cx="479.3" cy="91.4" r="2.5"/>
<circle cx="481.0" cy="91.2" r="2.5"/>
<circle cx="482.7" cy="90.9" r="2.5"/>
<circle cx="484.4" cy="90.7" r="2.5"/>
<circle cx="486.1" cy="90.5" r="2.5"/>
<circle cx="487.8" cy="90.3" r="2.5"/>
<circle cx="489.5" cy="90.1" r="2.5"/>
<circle cx="491.2" cy="89.9" r="2.5"/>
<circle cx="492.9" cy="89.7" r="2.5"/>
<circle cx="494.6" cy="89.5" r="2.5"/>
<circle cx="496.3" cy="89.4" r="2.5"/>
<circle cx="498.0" cy="89.2" r="2.5"/>
<circle cx="499.7" cy="89.0" r="2.5"/>
<circle cx="501.4" cy="88.9" r="2.5"/>
<circle cx="503.1" cy="88.8" r="2.5"/>
<circle cx="504.8" cy="88.6" r="2.5"/>
<circle cx="506.5" cy="88.5" r="2.5"/>
<circle cx="508.2" cy="88.3" r="2.5"/>
<circle cx="509.9" cy="88.2" r="2.5"/>
<circle cx="511.6" cy="88.1" r="2.5"/>
<circle cx="513.3" cy="87.9" r="2.5"/>
<circle cx="515.0" cy="87.8" r="2.5"/>
<circle cx="516.7" cy="87.6" r="2.5"/>
<circle cx="518.4" cy="87.5" r="2.5"/>
<circle cx="520.1" cy="87.3" r="2.5"/>
<circle cx="521.8" cy="87.2" r="2.5"/>
<circle cx="523.5" cy="87.1" r="2.5"/>
<circle cx="525.2" cy="86.9" r="2.5"/>
<circle cx="526.9" cy="86.8" r="2.5"/>
<circle cx="528.6" cy="86.7" r="2.5"/>
<circle cx="530.3" cy="86.6" r="2.5"/>
<circle cx="532.0" cy="86.5" r="2.5"/>
<circle cx="533.7" cy="86.4" r="2.5"/>
<circle cx="535.4" cy="86.3" r="2.5"/>
<circle cx="537.1" cy="86.2" r="2.5"/>
<circle cx="538.8" cy="86.2" r="2.5"/>
<circle cx="540.5" cy="86.1" r="2.5"/>
<circle cx="542.2" cy="86.0" r="2.5"/>
<circle cx="543.9" cy="85.9" r="2.5"/>
<circle cx="545.6" cy="85.8" r="2.5"/>
<circle cx="547.3" cy="85.7" r="2.5"/>
<circle cx="549.0" cy="85.6" r="2.5"/>
<circle cx="550.7" cy="85.6" r="2.5"/>
<circle cx="552.4" cy="85.5" r="2.5"/>
<circle cx="554.1" cy="85.4" r="2.5"/>
<circle cx="555.8" cy="85.4" r="2.5"/>
<circle cx="557.5" cy="85.3" r="2.5"/>
<circle cx="559.2" cy="85.2" r="2.5"/>
<circle cx="560.9" cy="85.2" r="2.5"/>
<circle cx="562.6" cy="85.3" r="2.5"/>
<circle cx="564.3" cy="85.4" r="2.5"/>
<circle cx="566.0" cy="85.4" r="2.5"/>
<circle cx="567.7" cy="85.5" r="2.5"/>
<circle cx="569.4" cy="85.7" r="2.5"/>
<circle cx="571.1" cy="85.9" r="2.5"/>
<circle cx="572.8" cy="86.2" r="2.5"/>
<circle cx="574.5" cy="86.4" r="2.5"/>
<circle cx="576.2" cy="86.6" r="2.5"/>
<circle cx="577.9" cy="86.6" r="2.5"/>
<circle cx="579.6" cy="86.7" r="2.5"/>
<circle cx="581.3" cy="86.8" r="2.5"/>
<circle cx="583.0" cy="87.0" r="2.5"/>
<circle cx="584.7" cy="87.2" r="2.5"/>
<circle cx="586.4" cy="87.3" r="2.5"/>
<circle cx="588.1" cy="87.5" r="2.5"/>
<circle cx="589.4" cy="87.5" r="2.5"/>
<circle cx="592.0" cy="87.0" r="2.5"/>
<circle cx="594.6" cy="86.3" r="2.5"/>
<circle cx="597.2" cy="82.2" r="2.5"/>
<circle cx="599.8" cy="79.7" r="2.5"/>
<circle cx="602.4" cy="78.0" r="2.5"/>
<circle cx="605.0" cy="75.0" r="2.5"/>
<circle cx="607.6" cy="74.3" r="2.5"/>
<circle cx="610.2" cy="74.6" r="2.5"/>
<circle cx="612.8" cy="74.7" r="2.5"/>
<circle cx="615.4" cy="71.5" r="2.5"/>
<circle cx="618.0" cy="71.2" r="2.5"/>
<circle cx="620.6" cy="69.9" r="2.5"/>
<circle cx="623.2" cy="71.2" r="2.5"/>
<circle cx="625.8" cy="68.5" r="2.5"/>
<circle cx="628.4" cy="66.3" r="2.5"/>
<circle cx="631.0" cy="72.4" r="2.5"/>
<circle cx="633.6" cy="73.0" r="2.5"/>
<circle cx="636.2" cy="72.1" r="2.5"/>
<circle cx="638.8" cy="71.8" r="2.5"/>
<circle cx="641.4" cy="70.0" r="2.5"/>
<circle cx="644.0" cy="69.7" r="2.5"/>
<circle cx="646.6" cy="72.6" r="2.5"/>
<circle cx="649.2" cy="71.0" r="2.5"/>
<circle cx="651.8" cy="71.6" r="2.5"/>
<circle cx="654.4" cy="72.2" r="2.5"/>
<circle cx="657.0" cy="71.7" r="2.5"/>
<circle cx="659.6" cy="72.9" r="2.5"/>
<circle cx="662.2" cy="72.8" r="2.5"/>
<circle cx="664.8" cy="74.8" r="2.5"/>
<circle cx="667.4" cy="73.3" r="2.5"/>
<circle cx="670.0" cy="73.4" r="2.5"/>
<circle cx="672.6" cy="73.3" r="2.5"/>
<circle cx="675.2" cy="73.5" r="2.5"/>
<circle cx="677.8" cy="72.7" r="2.5"/>
<circle cx="680.4" cy="72.1" r="2.5"/>
</g>
<polyline points="472.6,106.6 474.3,105.6 476.0,104.6 477.7,103.7 479.4,102.8 481.1,102.0 482.8,101.3 484.5,100.9 486.2,100.6 487.9,101.0 489.6,101.7 491.3,102.5 493.0,103.8 494.7,105.0 496.4,105.4 498.1,105.8 499.8,105.1 501.5,104.4 503.2,104.3 504.9,105.0 506.6,105.7 508.3,106.7 510.0,107.7 511.7,108.2 513.4,107.5 515.1,106.8 516.8,105.8 518.5,104.9 520.2,104.0 521.9,104.4 523.6,104.8 525.3,105.7 527.0,107.0 528.7,108.4 530.4,108.0 532.1,107.7 533.8,107.2 535.5,106.5 537.2,105.9 538.9,105.8 540.6,105.8 542.3,105.7 544.0,105.4 545.7,105.1 547.4,104.8 549.1,104.2 550.8,103.6 552.5,103.0 554.2,102.5 555.9,101.9 557.6,101.4 559.3,100.8 561.0,100.2 562.7,99.7 564.4,98.8 566.1,98.0 567.8,97.1 569.5,96.6 571.2,96.0 572.9,95.5 574.6,94.8 576.3,94.1 578.0,93.4 579.7,92.7 581.4,92.0 583.1,91.2 584.8,89.5 586.5,86.8 589.7,79.0 594.5,76.0 600.0,75.5 604.5,74.0 607.3,72.0 611.0,73.5 614.6,78.5 617.0,86.2 619.0,89.5 621.8,79.3 626.7,84.2 630.6,95.0 636.5,86.2 638.5,97.9 641.4,90.0 644.3,96.0 649.2,89.0 652.1,99.9 655.5,95.0 659.0,92.0 660.0,103.8 663.9,92.0 669.7,96.0 675.6,97.9 677.6,111.6 680.5,106.7" fill="none" stroke="#1414ff" stroke-width="1"/>
<g fill="none" stroke="#1414ff" stroke-width="0.8">
<circle cx="472.6" cy="106.6" r="2.5"/>
<circle cx="474.3" cy="105.6" r="2.5"/>
<circle cx="476.0" cy="104.6" r="2.5"/>
<circle cx="477.7" cy="103.7" r="2.5"/>
<circle cx="479.4" cy="102.8" r="2.5"/>
<circle cx="481.1" cy="102.0" r="2.5"/>
<circle cx="482.8" cy="101.3" r="2.5"/>
<circle cx="484.5" cy="100.9" r="2.5"/>
<circle cx="486.2" cy="100.6" r="2.5"/>
<circle cx="487.9" cy="101.0" r="2.5"/>
<circle cx="489.6" cy="101.7" r="2.5"/>
<circle cx="491.3" cy="102.5" r="2.5"/>
<circle cx="493.0" cy="103.8" r="2.5"/>
<circle cx="494.7" cy="105.0" r="2.5"/>
<circle cx="496.4" cy="105.4" r="2.5"/>
<circle cx="498.1" cy="105.8" r="2.5"/>
<circle cx="499.8" cy="105.1" r="2.5"/>
<circle cx="501.5" cy="104.4" r="2.5"/>
<circle cx="503.2" cy="104.3" r="2.5"/>
<circle cx="504.9" cy="105.0" r="2.5"/>
<circle cx="506.6" cy="105.7" r="2.5"/>
<circle cx="508.3" cy="106.7" r="2.5"/>
<circle cx="510.0" cy="107.7" r="2.5"/>
<circle cx="511.7" cy="108.2" r="2.5"/>
<circle cx="513.4" cy="107.5" r="2.5"/>
<circle cx="515.1" cy="106.8" r="2.5"/>
<circle cx="516.8" cy="105.8" r="2.5"/>
<circle cx="518.5" cy="104.9" r="2.5"/>
<circle cx="520.2" cy="104.0" r="2.5"/>
<circle cx="521.9" cy="104.4" r="2.5"/>
<circle cx="523.6" cy="104.8" r="2.5"/>
<circle cx="525.3" cy="105.7" r="2.5"/>
<circle cx="527.0" cy="107.0" r="2.5"/>
<circle cx="528.7" cy="108.4" r="2.5"/>
<circle cx="530.4" cy="108.0" r="2.5"/>
<circle cx="532.1" cy="107.7" r="2.5"/>
<circle cx="533.8" cy="107.2" r="2.5"/>
<circle cx="535.5" cy="106.5" r="2.5"/>
<circle cx="537.2" cy="105.9" r="2.5"/>
<circle cx="538.9" cy="105.8" r="2.5"/>
<circle cx="540.6" cy="105.8" r="2.5"/>
<circle cx="542.3" cy="105.7" r="2.5"/>
<circle cx="544.0" cy="105.4" r="2.5"/>
<circle cx="545.7" cy="105.1" r="2.5"/>
<circle cx="547.4" cy="104.8" r="2.5"/>
<circle cx="549.1" cy="104.2" r="2.5"/>
<circle cx="550.8" cy="103.6" r="2.5"/>
<circle cx="552.5" cy="103.0" r="2.5"/>
<circle cx="554.2" cy="102.5" r="2.5"/>
<circle cx="555.9" cy="101.9" r="2.5"/>
<circle cx="557.6" cy="101.4" r="2.5"/>
<circle cx="559.3" cy="100.8" r="2.5"/>
<circle cx="561.0" cy="100.2" r="2.5"/>
<circle cx="562.7" cy="99.7" r="2.5"/>
<circle cx="564.4" cy="98.8" r="2.5"/>
<circle cx="566.1" cy="98.0" r="2.5"/>
<circle cx="567.8" cy="97.1" r="2.5"/>
<circle cx="569.5" cy="96.6" r="2.5"/>
<circle cx="571.2" cy="96.0" r="2.5"/>
<circle cx="572.9" cy="95.5" r="2.5"/>
<circle cx="574.6" cy="94.8" r="2.5"/>
<circle cx="576.3" cy="94.1" r="2.5"/>
<circle cx="578.0" cy="93.4" r="2.5"/>
<circle cx="579.7" cy="92.7" r="2.5"/>
<circle cx="581.4" cy="92.0" r="2.5"/>
<circle cx="583.1" cy="91.2" r="2.5"/>
<circle cx="584.8" cy="89.5" r="2.5"/>
<circle cx="586.5" cy="86.8" r="2.5"/>
<circle cx="589.7" cy="79.0" r="2.4"/>
<circle cx="594.5" cy="76.0" r="2.4"/>
<circle cx="600.0" cy="75.5" r="2.4"/>
<circle cx="604.5" cy="74.0" r="2.4"/>
<circle cx="607.3" cy="72.0" r="2.4"/>
<circle cx="611.0" cy="73.5" r="2.4"/>
<circle cx="614.6" cy="78.5" r="2.4"/>
<circle cx="617.0" cy="86.2" r="2.4"/>
<circle cx="619.0" cy="89.5" r="2.4"/>
<circle cx="621.8" cy="79.3" r="2.4"/>
<circle cx="626.7" cy="84.2" r="2.4"/>
<circle cx="630.6" cy="95.0" r="2.4"/>
<circle cx="636.5" cy="86.2" r="2.4"/>
<circle cx="638.5" cy="97.9" r="2.4"/>
<circle cx="641.4" cy="90.0" r="2.4"/>
<circle cx="644.3" cy="96.0" r="2.4"/>
<circle cx="649.2" cy="89.0" r="2.4"/>
<circle cx="652.1" cy="99.9" r="2.4"/>
<circle cx="655.5" cy="95.0" r="2.4"/>
<circle cx="659.0" cy="92.0" r="2.4"/>
<circle cx="660.0" cy="103.8" r="2.4"/>
<circle cx="663.9" cy="92.0" r="2.4"/>
<circle cx="669.7" cy="96.0" r="2.4"/>
<circle cx="675.6" cy="97.9" r="2.4"/>
<circle cx="677.6" cy="111.6" r="2.4"/>
<circle cx="680.5" cy="106.7" r="2.4"/>
</g>
<line x1="474.3" y1="81.5" x2="474.3" y2="90.5" stroke="#454545" stroke-width="1"/>
<polygon points="474.3,82.2 477.3,86.0 474.3,89.8 471.3,86.0" fill="#666" stroke="#3a3a3a" stroke-width="0.7"/>
<line x1="483.5" y1="81.5" x2="483.5" y2="90.5" stroke="#454545" stroke-width="1"/>
<polygon points="483.5,82.2 486.5,86.0 483.5,89.8 480.5,86.0" fill="#666" stroke="#3a3a3a" stroke-width="0.7"/>
<line x1="488.8" y1="81.5" x2="488.8" y2="90.5" stroke="#454545" stroke-width="1"/>
<polygon points="488.8,82.2 491.8,86.0 488.8,89.8 485.8,86.0" fill="#666" stroke="#3a3a3a" stroke-width="0.7"/>
<line x1="497.6" y1="81.5" x2="497.6" y2="90.5" stroke="#454545" stroke-width="1"/>
<polygon points="497.6,82.2 500.6,86.0 497.6,89.8 494.6,86.0" fill="#666" stroke="#3a3a3a" stroke-width="0.7"/>
<line x1="504.2" y1="81.5" x2="504.2" y2="90.5" stroke="#454545" stroke-width="1"/>
<polygon points="504.2,82.2 507.2,86.0 504.2,89.8 501.2,86.0" fill="#666" stroke="#3a3a3a" stroke-width="0.7"/>
<line x1="518.4" y1="78.5" x2="518.4" y2="87.5" stroke="#454545" stroke-width="1"/>
<polygon points="518.4,79.2 521.4,83.0 518.4,86.8 515.4,83.0" fill="#666" stroke="#3a3a3a" stroke-width="0.7"/>
<line x1="533.5" y1="78.5" x2="533.5" y2="87.5" stroke="#454545" stroke-width="1"/>
<polygon points="533.5,79.2 536.5,83.0 533.5,86.8 530.5,83.0" fill="#666" stroke="#3a3a3a" stroke-width="0.7"/>
<line x1="563.0" y1="79.0" x2="563.0" y2="88.0" stroke="#454545" stroke-width="1"/>
<polygon points="563.0,79.7 566.0,83.5 563.0,87.3 560.0,83.5" fill="#666" stroke="#3a3a3a" stroke-width="0.7"/>
<line x1="576.9" y1="79.0" x2="576.9" y2="88.0" stroke="#454545" stroke-width="1"/>
<polygon points="576.9,79.7 579.9,83.5 576.9,87.3 573.9,83.5" fill="#666" stroke="#3a3a3a" stroke-width="0.7"/>
<line x1="583.5" y1="79.0" x2="583.5" y2="88.0" stroke="#454545" stroke-width="1"/>
<polygon points="583.5,79.7 586.5,83.5 583.5,87.3 580.5,83.5" fill="#666" stroke="#3a3a3a" stroke-width="0.7"/>
<line x1="592.3" y1="78.5" x2="592.3" y2="87.5" stroke="#454545" stroke-width="1"/>
<polygon points="592.3,79.2 595.3,83.0 592.3,86.8 589.3,83.0" fill="#666" stroke="#3a3a3a" stroke-width="0.7"/>
<line x1="604.0" y1="77.5" x2="604.0" y2="86.5" stroke="#454545" stroke-width="1"/>
<polygon points="604.0,78.2 607.0,82.0 604.0,85.8 601.0,82.0" fill="#666" stroke="#3a3a3a" stroke-width="0.7"/>
<line x1="474.5" y1="104.0" x2="474.5" y2="120.0" stroke="#454545" stroke-width="1.2"/>
<line x1="472.1" y1="104.0" x2="476.9" y2="104.0" stroke="#454545" stroke-width="1.1"/>
<line x1="472.1" y1="120.0" x2="476.9" y2="120.0" stroke="#454545" stroke-width="1.1"/>
<polygon points="474.5,104.8 477.2,108.0 474.5,111.2 471.8,108.0" fill="#b8b8b8" fill-opacity="0.55" stroke="#404040" stroke-width="1.1"/>
<line x1="474.5" y1="105.0" x2="474.5" y2="111.0" stroke="#555" stroke-width="0.6"/>
<line x1="483.5" y1="106.0" x2="483.5" y2="117.0" stroke="#454545" stroke-width="1.2"/>
<line x1="481.1" y1="106.0" x2="485.9" y2="106.0" stroke="#454545" stroke-width="1.1"/>
<line x1="481.1" y1="117.0" x2="485.9" y2="117.0" stroke="#454545" stroke-width="1.1"/>
<polygon points="483.5,107.3 486.2,110.5 483.5,113.7 480.8,110.5" fill="#b8b8b8" fill-opacity="0.55" stroke="#404040" stroke-width="1.1"/>
<line x1="483.5" y1="107.5" x2="483.5" y2="113.5" stroke="#555" stroke-width="0.6"/>
<line x1="489.0" y1="104.0" x2="489.0" y2="122.0" stroke="#454545" stroke-width="1.2"/>
<line x1="486.6" y1="104.0" x2="491.4" y2="104.0" stroke="#454545" stroke-width="1.1"/>
<line x1="486.6" y1="122.0" x2="491.4" y2="122.0" stroke="#454545" stroke-width="1.1"/>
<polygon points="489.0,105.8 491.7,109.0 489.0,112.2 486.3,109.0" fill="#b8b8b8" fill-opacity="0.55" stroke="#404040" stroke-width="1.1"/>
<line x1="489.0" y1="106.0" x2="489.0" y2="112.0" stroke="#555" stroke-width="0.6"/>
<line x1="497.6" y1="108.0" x2="497.6" y2="118.0" stroke="#454545" stroke-width="1.2"/>
<line x1="495.2" y1="108.0" x2="500.0" y2="108.0" stroke="#454545" stroke-width="1.1"/>
<line x1="495.2" y1="118.0" x2="500.0" y2="118.0" stroke="#454545" stroke-width="1.1"/>
<polygon points="497.6,108.3 500.3,111.5 497.6,114.7 494.9,111.5" fill="#b8b8b8" fill-opacity="0.55" stroke="#404040" stroke-width="1.1"/>
<line x1="497.6" y1="108.5" x2="497.6" y2="114.5" stroke="#555" stroke-width="0.6"/>
<line x1="504.4" y1="107.0" x2="504.4" y2="124.0" stroke="#454545" stroke-width="1.2"/>
<line x1="502.0" y1="107.0" x2="506.8" y2="107.0" stroke="#454545" stroke-width="1.1"/>
<line x1="502.0" y1="124.0" x2="506.8" y2="124.0" stroke="#454545" stroke-width="1.1"/>
<polygon points="504.4,110.3 507.1,113.5 504.4,116.7 501.7,113.5" fill="#b8b8b8" fill-opacity="0.55" stroke="#404040" stroke-width="1.1"/>
<line x1="504.4" y1="110.5" x2="504.4" y2="116.5" stroke="#555" stroke-width="0.6"/>
<line x1="518.4" y1="120.0" x2="518.4" y2="129.0" stroke="#454545" stroke-width="1.2"/>
<line x1="516.0" y1="120.0" x2="520.8" y2="120.0" stroke="#454545" stroke-width="1.1"/>
<line x1="516.0" y1="129.0" x2="520.8" y2="129.0" stroke="#454545" stroke-width="1.1"/>
<polygon points="518.4,120.8 521.1,124.0 518.4,127.2 515.7,124.0" fill="#b8b8b8" fill-opacity="0.55" stroke="#404040" stroke-width="1.1"/>
<line x1="518.4" y1="121.0" x2="518.4" y2="127.0" stroke="#555" stroke-width="0.6"/>
<line x1="533.5" y1="112.0" x2="533.5" y2="130.0" stroke="#454545" stroke-width="1.2"/>
<line x1="531.1" y1="112.0" x2="535.9" y2="112.0" stroke="#454545" stroke-width="1.1"/>
<line x1="531.1" y1="130.0" x2="535.9" y2="130.0" stroke="#454545" stroke-width="1.1"/>
<polygon points="533.5,113.3 536.2,116.5 533.5,119.7 530.8,116.5" fill="#b8b8b8" fill-opacity="0.55" stroke="#404040" stroke-width="1.1"/>
<line x1="533.5" y1="113.5" x2="533.5" y2="119.5" stroke="#555" stroke-width="0.6"/>
<line x1="533.5" y1="120.0" x2="533.5" y2="128.0" stroke="#454545" stroke-width="1.2"/>
<line x1="531.1" y1="120.0" x2="535.9" y2="120.0" stroke="#454545" stroke-width="1.1"/>
<line x1="531.1" y1="128.0" x2="535.9" y2="128.0" stroke="#454545" stroke-width="1.1"/>
<polygon points="533.5,120.8 536.2,124.0 533.5,127.2 530.8,124.0" fill="#b8b8b8" fill-opacity="0.55" stroke="#404040" stroke-width="1.1"/>
<line x1="533.5" y1="121.0" x2="533.5" y2="127.0" stroke="#555" stroke-width="0.6"/>
<line x1="563.0" y1="117.0" x2="563.0" y2="129.0" stroke="#454545" stroke-width="1.2"/>
<line x1="560.6" y1="117.0" x2="565.4" y2="117.0" stroke="#454545" stroke-width="1.1"/>
<line x1="560.6" y1="129.0" x2="565.4" y2="129.0" stroke="#454545" stroke-width="1.1"/>
<polygon points="563.0,118.3 565.7,121.5 563.0,124.7 560.3,121.5" fill="#b8b8b8" fill-opacity="0.55" stroke="#404040" stroke-width="1.1"/>
<line x1="563.0" y1="118.5" x2="563.0" y2="124.5" stroke="#555" stroke-width="0.6"/>
<line x1="577.0" y1="113.0" x2="577.0" y2="124.5" stroke="#454545" stroke-width="1.2"/>
<line x1="574.6" y1="113.0" x2="579.4" y2="113.0" stroke="#454545" stroke-width="1.1"/>
<line x1="574.6" y1="124.5" x2="579.4" y2="124.5" stroke="#454545" stroke-width="1.1"/>
<polygon points="577.0,113.8 579.7,117.0 577.0,120.2 574.3,117.0" fill="#b8b8b8" fill-opacity="0.55" stroke="#404040" stroke-width="1.1"/>
<line x1="577.0" y1="114.0" x2="577.0" y2="120.0" stroke="#555" stroke-width="0.6"/>
<line x1="583.5" y1="110.2" x2="583.5" y2="123.5" stroke="#454545" stroke-width="1.2"/>
<line x1="581.1" y1="110.2" x2="585.9" y2="110.2" stroke="#454545" stroke-width="1.1"/>
<line x1="581.1" y1="123.5" x2="585.9" y2="123.5" stroke="#454545" stroke-width="1.1"/>
<polygon points="583.5,111.8 586.2,115.0 583.5,118.2 580.8,115.0" fill="#b8b8b8" fill-opacity="0.55" stroke="#404040" stroke-width="1.1"/>
<line x1="583.5" y1="112.0" x2="583.5" y2="118.0" stroke="#555" stroke-width="0.6"/>
<line x1="592.3" y1="106.2" x2="592.3" y2="121.4" stroke="#454545" stroke-width="1.2"/>
<line x1="589.9" y1="106.2" x2="594.7" y2="106.2" stroke="#454545" stroke-width="1.1"/>
<line x1="589.9" y1="121.4" x2="594.7" y2="121.4" stroke="#454545" stroke-width="1.1"/>
<polygon points="592.3,108.3 595.0,111.5 592.3,114.7 589.6,111.5" fill="#b8b8b8" fill-opacity="0.55" stroke="#404040" stroke-width="1.1"/>
<line x1="592.3" y1="108.5" x2="592.3" y2="114.5" stroke="#555" stroke-width="0.6"/>
<line x1="604.0" y1="103.0" x2="604.0" y2="119.4" stroke="#454545" stroke-width="1.2"/>
<line x1="601.6" y1="103.0" x2="606.4" y2="103.0" stroke="#454545" stroke-width="1.1"/>
<line x1="601.6" y1="119.4" x2="606.4" y2="119.4" stroke="#454545" stroke-width="1.1"/>
<polygon points="604.0,104.8 606.7,108.0 604.0,111.2 601.3,108.0" fill="#b8b8b8" fill-opacity="0.55" stroke="#404040" stroke-width="1.1"/>
<line x1="604.0" y1="105.0" x2="604.0" y2="111.0" stroke="#555" stroke-width="0.6"/>
<polygon points="474.0,320.0 480.0,316.0 486.0,313.5 492.0,315.0 498.0,320.0 505.0,319.5 512.0,318.5 520.0,321.0 526.0,325.0 530.0,327.0 540.0,327.0 548.0,328.0 555.0,333.0 560.0,343.0 575.0,343.0 585.0,342.0 595.0,339.0 605.0,343.0 612.0,345.0 620.0,341.4 630.0,345.0 640.0,342.0 650.0,337.0 655.0,336.0 660.0,335.0 665.0,334.0 672.0,336.0 678.0,340.0 682.0,350.0 682.0,362.0 676.0,360.0 670.0,352.0 665.0,357.0 655.0,358.0 648.0,355.0 643.0,363.0 636.0,358.0 628.0,354.0 622.0,363.0 616.0,360.0 610.0,363.0 603.0,356.0 596.0,357.0 590.0,360.0 584.0,355.0 578.0,358.0 572.0,358.0 566.0,352.0 560.0,360.0 556.0,354.0 551.0,351.0 545.0,358.0 538.0,345.0 533.0,350.0 528.0,336.0 522.0,330.0 515.0,326.0 505.0,327.0 498.0,329.0 490.0,324.0 480.0,326.0 474.0,328.0" fill="#a8e4f4"/>
<polygon points="520,304 682,303.8 682,306.5 520,306.5" fill="#eeae92"/>
<polyline points="474.3,305.6 476.0,305.3 477.7,305.0 479.4,304.7 481.1,304.4 482.8,304.2 484.5,304.0 486.2,303.7 487.9,303.5 489.6,303.3 491.3,303.1 493.0,303.0 494.7,302.8 496.4,302.7 498.1,302.6 499.8,302.4 501.5,302.3 503.2,302.2 504.9,302.2 506.6,302.1 508.3,302.0 510.0,301.9 511.7,301.8 513.4,301.7 515.1,301.6 516.8,301.5 518.5,301.4 520.2,301.3 521.9,301.3 523.6,301.2 525.3,301.2 527.0,301.2 528.7,301.2 530.4,301.1 532.1,301.1 533.8,301.1 535.5,301.1 537.2,301.0 538.9,301.0 540.6,301.0 542.3,301.0 544.0,301.1 545.7,301.1 547.4,301.1 549.1,301.1 550.8,301.2 552.5,301.2 554.2,301.2 555.9,301.2 557.6,301.3 559.3,301.3 561.0,301.3 562.7,301.3 564.4,301.3 566.1,301.3 567.8,301.3 569.5,301.3 571.2,301.4 572.9,301.4 574.6,301.4 576.3,301.4 578.0,301.4 579.7,301.4 581.4,301.4 583.1,301.4 584.8,301.4 586.5,301.4 588.2,301.4 589.9,301.4 591.6,301.5 593.3,301.5 595.0,301.5 596.7,301.5 598.4,301.5 600.1,301.5 601.8,301.5 603.5,301.5 605.2,301.5 606.9,301.5 608.6,301.5 610.3,301.5 612.0,301.5 613.7,301.5 615.4,301.5 617.1,301.5 618.8,301.5 620.5,301.5 622.2,301.5 623.9,301.5 625.6,301.5 627.3,301.5 629.0,301.5 630.7,301.5 632.4,301.5 634.1,301.5 635.8,301.5 637.5,301.5 639.2,301.5 640.9,301.5 642.6,301.5 644.3,301.5 646.0,301.5 647.7,301.5 649.4,301.5 651.1,301.5 652.8,301.5 654.5,301.5 656.2,301.5 657.9,301.5 659.6,301.5 661.3,301.5 663.0,301.5 664.7,301.5 666.4,301.5 668.1,301.5 669.8,301.5 671.5,301.5 673.2,301.5 674.9,301.5 676.6,301.5 678.3,301.5 680.0,301.5 681.7,301.5 683.4,301.5 685.1,301.5 686.8,301.5 688.5,301.5 690.2,301.5 691.9,301.5 693.6,301.5 695.3,301.5 697.0,301.5 698.7,301.5" fill="none" stroke="#ff1e1e" stroke-width="1"/>
<g fill="none" stroke="#ff1e1e" stroke-width="0.8">
<circle cx="474.3" cy="305.6" r="2.6"/>
<circle cx="476.0" cy="305.3" r="2.6"/>
<circle cx="477.7" cy="305.0" r="2.6"/>
<circle cx="479.4" cy="304.7" r="2.6"/>
<circle cx="481.1" cy="304.4" r="2.6"/>
<circle cx="482.8" cy="304.2" r="2.6"/>
<circle cx="484.5" cy="304.0" r="2.6"/>
<circle cx="486.2" cy="303.7" r="2.6"/>
<circle cx="487.9" cy="303.5" r="2.6"/>
<circle cx="489.6" cy="303.3" r="2.6"/>
<circle cx="491.3" cy="303.1" r="2.6"/>
<circle cx="493.0" cy="303.0" r="2.6"/>
<circle cx="494.7" cy="302.8" r="2.6"/>
<circle cx="496.4" cy="302.7" r="2.6"/>
<circle cx="498.1" cy="302.6" r="2.6"/>
<circle cx="499.8" cy="302.4" r="2.6"/>
<circle cx="501.5" cy="302.3" r="2.6"/>
<circle cx="503.2" cy="302.2" r="2.6"/>
<circle cx="504.9" cy="302.2" r="2.6"/>
<circle cx="506.6" cy="302.1" r="2.6"/>
<circle cx="508.3" cy="302.0" r="2.6"/>
<circle cx="510.0" cy="301.9" r="2.6"/>
<circle cx="511.7" cy="301.8" r="2.6"/>
<circle cx="513.4" cy="301.7" r="2.6"/>
<circle cx="515.1" cy="301.6" r="2.6"/>
<circle cx="516.8" cy="301.5" r="2.6"/>
<circle cx="518.5" cy="301.4" r="2.6"/>
<circle cx="520.2" cy="301.3" r="2.6"/>
<circle cx="521.9" cy="301.3" r="2.6"/>
<circle cx="523.6" cy="301.2" r="2.6"/>
<circle cx="525.3" cy="301.2" r="2.6"/>
<circle cx="527.0" cy="301.2" r="2.6"/>
<circle cx="528.7" cy="301.2" r="2.6"/>
<circle cx="530.4" cy="301.1" r="2.6"/>
<circle cx="532.1" cy="301.1" r="2.6"/>
<circle cx="533.8" cy="301.1" r="2.6"/>
<circle cx="535.5" cy="301.1" r="2.6"/>
<circle cx="537.2" cy="301.0" r="2.6"/>
<circle cx="538.9" cy="301.0" r="2.6"/>
<circle cx="540.6" cy="301.0" r="2.6"/>
<circle cx="542.3" cy="301.0" r="2.6"/>
<circle cx="544.0" cy="301.1" r="2.6"/>
<circle cx="545.7" cy="301.1" r="2.6"/>
<circle cx="547.4" cy="301.1" r="2.6"/>
<circle cx="549.1" cy="301.1" r="2.6"/>
<circle cx="550.8" cy="301.2" r="2.6"/>
<circle cx="552.5" cy="301.2" r="2.6"/>
<circle cx="554.2" cy="301.2" r="2.6"/>
<circle cx="555.9" cy="301.2" r="2.6"/>
<circle cx="557.6" cy="301.3" r="2.6"/>
<circle cx="559.3" cy="301.3" r="2.6"/>
<circle cx="561.0" cy="301.3" r="2.6"/>
<circle cx="562.7" cy="301.3" r="2.6"/>
<circle cx="564.4" cy="301.3" r="2.6"/>
<circle cx="566.1" cy="301.3" r="2.6"/>
<circle cx="567.8" cy="301.3" r="2.6"/>
<circle cx="569.5" cy="301.3" r="2.6"/>
<circle cx="571.2" cy="301.4" r="2.6"/>
<circle cx="572.9" cy="301.4" r="2.6"/>
<circle cx="574.6" cy="301.4" r="2.6"/>
<circle cx="576.3" cy="301.4" r="2.6"/>
<circle cx="578.0" cy="301.4" r="2.6"/>
<circle cx="579.7" cy="301.4" r="2.6"/>
<circle cx="581.4" cy="301.4" r="2.6"/>
<circle cx="583.1" cy="301.4" r="2.6"/>
<circle cx="584.8" cy="301.4" r="2.6"/>
<circle cx="586.5" cy="301.4" r="2.6"/>
<circle cx="588.2" cy="301.4" r="2.6"/>
<circle cx="589.9" cy="301.4" r="2.6"/>
<circle cx="591.6" cy="301.5" r="2.6"/>
<circle cx="593.3" cy="301.5" r="2.6"/>
<circle cx="595.0" cy="301.5" r="2.6"/>
<circle cx="596.7" cy="301.5" r="2.6"/>
<circle cx="598.4" cy="301.5" r="2.6"/>
<circle cx="600.1" cy="301.5" r="2.6"/>
<circle cx="601.8" cy="301.5" r="2.6"/>
<circle cx="603.5" cy="301.5" r="2.6"/>
<circle cx="605.2" cy="301.5" r="2.6"/>
<circle cx="606.9" cy="301.5" r="2.6"/>
<circle cx="608.6" cy="301.5" r="2.6"/>
<circle cx="610.3" cy="301.5" r="2.6"/>
<circle cx="612.0" cy="301.5" r="2.6"/>
<circle cx="613.7" cy="301.5" r="2.6"/>
<circle cx="615.4" cy="301.5" r="2.6"/>
<circle cx="617.1" cy="301.5" r="2.6"/>
<circle cx="618.8" cy="301.5" r="2.6"/>
<circle cx="620.5" cy="301.5" r="2.6"/>
<circle cx="622.2" cy="301.5" r="2.6"/>
<circle cx="623.9" cy="301.5" r="2.6"/>
<circle cx="625.6" cy="301.5" r="2.6"/>
<circle cx="627.3" cy="301.5" r="2.6"/>
<circle cx="629.0" cy="301.5" r="2.6"/>
<circle cx="630.7" cy="301.5" r="2.6"/>
<circle cx="632.4" cy="301.5" r="2.6"/>
<circle cx="634.1" cy="301.5" r="2.6"/>
<circle cx="635.8" cy="301.5" r="2.6"/>
<circle cx="637.5" cy="301.5" r="2.6"/>
<circle cx="639.2" cy="301.5" r="2.6"/>
<circle cx="640.9" cy="301.5" r="2.6"/>
<circle cx="642.6" cy="301.5" r="2.6"/>
<circle cx="644.3" cy="301.5" r="2.6"/>
<circle cx="646.0" cy="301.5" r="2.6"/>
<circle cx="647.7" cy="301.5" r="2.6"/>
<circle cx="649.4" cy="301.5" r="2.6"/>
<circle cx="651.1" cy="301.5" r="2.6"/>
<circle cx="652.8" cy="301.5" r="2.6"/>
<circle cx="654.5" cy="301.5" r="2.6"/>
<circle cx="656.2" cy="301.5" r="2.6"/>
<circle cx="657.9" cy="301.5" r="2.6"/>
<circle cx="659.6" cy="301.5" r="2.6"/>
<circle cx="661.3" cy="301.5" r="2.6"/>
<circle cx="663.0" cy="301.5" r="2.6"/>
<circle cx="664.7" cy="301.5" r="2.6"/>
<circle cx="666.4" cy="301.5" r="2.6"/>
<circle cx="668.1" cy="301.5" r="2.6"/>
<circle cx="669.8" cy="301.5" r="2.6"/>
<circle cx="671.5" cy="301.5" r="2.6"/>
<circle cx="673.2" cy="301.5" r="2.6"/>
<circle cx="674.9" cy="301.5" r="2.6"/>
<circle cx="676.6" cy="301.5" r="2.6"/>
<circle cx="678.3" cy="301.5" r="2.6"/>
<circle cx="680.0" cy="301.5" r="2.6"/>
<circle cx="681.7" cy="301.5" r="2.6"/>
<circle cx="683.4" cy="301.5" r="2.6"/>
<circle cx="685.1" cy="301.5" r="2.6"/>
<circle cx="686.8" cy="301.5" r="2.6"/>
<circle cx="688.5" cy="301.5" r="2.6"/>
<circle cx="690.2" cy="301.5" r="2.6"/>
<circle cx="691.9" cy="301.5" r="2.6"/>
<circle cx="693.6" cy="301.5" r="2.6"/>
<circle cx="695.3" cy="301.5" r="2.6"/>
<circle cx="697.0" cy="301.5" r="2.6"/>
<circle cx="698.7" cy="301.5" r="2.6"/>
</g>
<polyline points="474.2,324.1 476.7,322.6 479.2,321.1 481.7,319.7 484.2,319.2 486.7,319.0 489.2,319.5 491.7,320.4 494.2,321.6 496.7,323.8 499.2,325.1 501.7,323.9 504.2,322.9 506.7,322.6 509.2,322.6 511.7,321.9 514.2,321.2 516.7,323.3 519.2,325.1 521.7,326.0 524.2,327.3 526.7,330.4 528.5,338.7 531.4,336.5 535.0,335.8 538.7,338.7 542.4,335.8 544.6,346.8 548.2,342.4 551.2,340.2 553.4,343.9 556.3,349.0 560.0,346.9 562.7,347.8 565.5,348.7 570.0,356.0 572.8,347.8 576.4,349.6 579.2,350.5 582.8,347.8 586.5,354.2 589.2,350.5 592.0,346.0 594.7,341.4 597.4,351.5 599.2,346.9 602.9,344.2 606.5,342.3 608.4,354.2 612.0,355.1 614.7,348.7 618.4,352.4 623.0,352.4 627.5,352.4 631.2,354.2 633.9,348.7 637.6,343.2 642.1,350.5 647.6,342.3 651.2,345.1 654.9,343.2 659.5,340.5 662.2,346.0 665.8,348.7 669.5,349.6 673.1,350.5 676.8,351.5 678.6,361.5" fill="none" stroke="#1414ff" stroke-width="1"/>
<g fill="none" stroke="#1414ff" stroke-width="1.0">
<circle cx="474.2" cy="324.1" r="2.3"/>
<circle cx="476.7" cy="322.6" r="2.3"/>
<circle cx="479.2" cy="321.1" r="2.3"/>
<circle cx="481.7" cy="319.7" r="2.3"/>
<circle cx="484.2" cy="319.2" r="2.3"/>
<circle cx="486.7" cy="319.0" r="2.3"/>
<circle cx="489.2" cy="319.5" r="2.3"/>
<circle cx="491.7" cy="320.4" r="2.3"/>
<circle cx="494.2" cy="321.6" r="2.3"/>
<circle cx="496.7" cy="323.8" r="2.3"/>
<circle cx="499.2" cy="325.1" r="2.3"/>
<circle cx="501.7" cy="323.9" r="2.3"/>
<circle cx="504.2" cy="322.9" r="2.3"/>
<circle cx="506.7" cy="322.6" r="2.3"/>
<circle cx="509.2" cy="322.6" r="2.3"/>
<circle cx="511.7" cy="321.9" r="2.3"/>
<circle cx="514.2" cy="321.2" r="2.3"/>
<circle cx="516.7" cy="323.3" r="2.3"/>
<circle cx="519.2" cy="325.1" r="2.3"/>
<circle cx="521.7" cy="326.0" r="2.3"/>
<circle cx="524.2" cy="327.3" r="2.3"/>
<circle cx="526.7" cy="330.4" r="2.3"/>
<circle cx="528.5" cy="338.7" r="2.3"/>
<circle cx="531.4" cy="336.5" r="2.3"/>
<circle cx="535.0" cy="335.8" r="2.3"/>
<circle cx="538.7" cy="338.7" r="2.3"/>
<circle cx="542.4" cy="335.8" r="2.3"/>
<circle cx="544.6" cy="346.8" r="2.3"/>
<circle cx="548.2" cy="342.4" r="2.3"/>
<circle cx="551.2" cy="340.2" r="2.3"/>
<circle cx="553.4" cy="343.9" r="2.3"/>
<circle cx="556.3" cy="349.0" r="2.3"/>
<circle cx="560.0" cy="346.9" r="2.3"/>
<circle cx="562.7" cy="347.8" r="2.3"/>
<circle cx="565.5" cy="348.7" r="2.3"/>
<circle cx="570.0" cy="356.0" r="2.3"/>
<circle cx="572.8" cy="347.8" r="2.3"/>
<circle cx="576.4" cy="349.6" r="2.3"/>
<circle cx="579.2" cy="350.5" r="2.3"/>
<circle cx="582.8" cy="347.8" r="2.3"/>
<circle cx="586.5" cy="354.2" r="2.3"/>
<circle cx="589.2" cy="350.5" r="2.3"/>
<circle cx="592.0" cy="346.0" r="2.3"/>
<circle cx="594.7" cy="341.4" r="2.3"/>
<circle cx="597.4" cy="351.5" r="2.3"/>
<circle cx="599.2" cy="346.9" r="2.3"/>
<circle cx="602.9" cy="344.2" r="2.3"/>
<circle cx="606.5" cy="342.3" r="2.3"/>
<circle cx="608.4" cy="354.2" r="2.3"/>
<circle cx="612.0" cy="355.1" r="2.3"/>
<circle cx="614.7" cy="348.7" r="2.3"/>
<circle cx="618.4" cy="352.4" r="2.3"/>
<circle cx="623.0" cy="352.4" r="2.3"/>
<circle cx="627.5" cy="352.4" r="2.3"/>
<circle cx="631.2" cy="354.2" r="2.3"/>
<circle cx="633.9" cy="348.7" r="2.3"/>
<circle cx="637.6" cy="343.2" r="2.3"/>
<circle cx="642.1" cy="350.5" r="2.3"/>
<circle cx="647.6" cy="342.3" r="2.3"/>
<circle cx="651.2" cy="345.1" r="2.3"/>
<circle cx="654.9" cy="343.2" r="2.3"/>
<circle cx="659.5" cy="340.5" r="2.3"/>
<circle cx="662.2" cy="346.0" r="2.3"/>
<circle cx="665.8" cy="348.7" r="2.3"/>
<circle cx="669.5" cy="349.6" r="2.3"/>
<circle cx="673.1" cy="350.5" r="2.3"/>
<circle cx="676.8" cy="351.5" r="2.3"/>
<circle cx="678.6" cy="361.5" r="2.3"/>
</g>
<line x1="474.5" y1="290.8" x2="474.5" y2="298.8" stroke="#454545" stroke-width="1"/>
<polygon points="474.5,291.0 477.5,294.8 474.5,298.6 471.5,294.8" fill="#666" stroke="#3a3a3a" stroke-width="0.7"/>
<line x1="484.5" y1="291.0" x2="484.5" y2="299.0" stroke="#454545" stroke-width="1"/>
<polygon points="484.5,291.2 487.5,295.0 484.5,298.8 481.5,295.0" fill="#666" stroke="#3a3a3a" stroke-width="0.7"/>
<line x1="489.5" y1="291.0" x2="489.5" y2="299.0" stroke="#454545" stroke-width="1"/>
<polygon points="489.5,291.2 492.5,295.0 489.5,298.8 486.5,295.0" fill="#666" stroke="#3a3a3a" stroke-width="0.7"/>
<line x1="499.0" y1="291.0" x2="499.0" y2="299.0" stroke="#454545" stroke-width="1"/>
<polygon points="499.0,291.2 502.0,295.0 499.0,298.8 496.0,295.0" fill="#666" stroke="#3a3a3a" stroke-width="0.7"/>
<line x1="505.0" y1="291.0" x2="505.0" y2="299.0" stroke="#454545" stroke-width="1"/>
<polygon points="505.0,291.2 508.0,295.0 505.0,298.8 502.0,295.0" fill="#666" stroke="#3a3a3a" stroke-width="0.7"/>
<line x1="519.0" y1="287.5" x2="519.0" y2="295.5" stroke="#454545" stroke-width="1"/>
<polygon points="519.0,287.7 522.0,291.5 519.0,295.3 516.0,291.5" fill="#666" stroke="#3a3a3a" stroke-width="0.7"/>
<line x1="534.0" y1="287.5" x2="534.0" y2="295.5" stroke="#454545" stroke-width="1"/>
<polygon points="534.0,287.7 537.0,291.5 534.0,295.3 531.0,291.5" fill="#666" stroke="#3a3a3a" stroke-width="0.7"/>
<line x1="564.0" y1="288.0" x2="564.0" y2="296.0" stroke="#454545" stroke-width="1"/>
<polygon points="564.0,288.2 567.0,292.0 564.0,295.8 561.0,292.0" fill="#666" stroke="#3a3a3a" stroke-width="0.7"/>
<line x1="578.0" y1="288.0" x2="578.0" y2="296.0" stroke="#454545" stroke-width="1"/>
<polygon points="578.0,288.2 581.0,292.0 578.0,295.8 575.0,292.0" fill="#666" stroke="#3a3a3a" stroke-width="0.7"/>
<line x1="584.5" y1="288.0" x2="584.5" y2="296.0" stroke="#454545" stroke-width="1"/>
<polygon points="584.5,288.2 587.5,292.0 584.5,295.8 581.5,292.0" fill="#666" stroke="#3a3a3a" stroke-width="0.7"/>
<line x1="593.5" y1="288.0" x2="593.5" y2="296.0" stroke="#454545" stroke-width="1"/>
<polygon points="593.5,288.2 596.5,292.0 593.5,295.8 590.5,292.0" fill="#666" stroke="#3a3a3a" stroke-width="0.7"/>
<line x1="605.0" y1="287.3" x2="605.0" y2="295.3" stroke="#454545" stroke-width="1"/>
<polygon points="605.0,287.5 608.0,291.3 605.0,295.1 602.0,291.3" fill="#666" stroke="#3a3a3a" stroke-width="0.7"/>
<line x1="474.8" y1="313.0" x2="474.8" y2="328.6" stroke="#454545" stroke-width="1.2"/>
<line x1="472.4" y1="313.0" x2="477.2" y2="313.0" stroke="#454545" stroke-width="1.1"/>
<line x1="472.4" y1="328.6" x2="477.2" y2="328.6" stroke="#454545" stroke-width="1.1"/>
<polygon points="474.8,314.3 477.5,317.5 474.8,320.7 472.1,317.5" fill="#b8b8b8" fill-opacity="0.55" stroke="#404040" stroke-width="1.1"/>
<line x1="474.8" y1="314.5" x2="474.8" y2="320.5" stroke="#555" stroke-width="0.6"/>
<line x1="484.4" y1="314.0" x2="484.4" y2="326.0" stroke="#454545" stroke-width="1.2"/>
<line x1="482.0" y1="314.0" x2="486.8" y2="314.0" stroke="#454545" stroke-width="1.1"/>
<line x1="482.0" y1="326.0" x2="486.8" y2="326.0" stroke="#454545" stroke-width="1.1"/>
<polygon points="484.4,316.3 487.1,319.5 484.4,322.7 481.7,319.5" fill="#b8b8b8" fill-opacity="0.55" stroke="#404040" stroke-width="1.1"/>
<line x1="484.4" y1="316.5" x2="484.4" y2="322.5" stroke="#555" stroke-width="0.6"/>
<line x1="489.2" y1="314.4" x2="489.2" y2="330.5" stroke="#454545" stroke-width="1.2"/>
<line x1="486.8" y1="314.4" x2="491.6" y2="314.4" stroke="#454545" stroke-width="1.1"/>
<line x1="486.8" y1="330.5" x2="491.6" y2="330.5" stroke="#454545" stroke-width="1.1"/>
<polygon points="489.2,315.2 491.9,318.4 489.2,321.6 486.5,318.4" fill="#b8b8b8" fill-opacity="0.55" stroke="#404040" stroke-width="1.1"/>
<line x1="489.2" y1="315.4" x2="489.2" y2="321.4" stroke="#555" stroke-width="0.6"/>
<line x1="498.6" y1="316.0" x2="498.6" y2="327.0" stroke="#454545" stroke-width="1.2"/>
<line x1="496.2" y1="316.0" x2="501.0" y2="316.0" stroke="#454545" stroke-width="1.1"/>
<line x1="496.2" y1="327.0" x2="501.0" y2="327.0" stroke="#454545" stroke-width="1.1"/>
<polygon points="498.6,317.8 501.3,321.0 498.6,324.2 495.9,321.0" fill="#b8b8b8" fill-opacity="0.55" stroke="#404040" stroke-width="1.1"/>
<line x1="498.6" y1="318.0" x2="498.6" y2="324.0" stroke="#555" stroke-width="0.6"/>
<line x1="505.4" y1="318.4" x2="505.4" y2="333.2" stroke="#454545" stroke-width="1.2"/>
<line x1="503.0" y1="318.4" x2="507.8" y2="318.4" stroke="#454545" stroke-width="1.1"/>
<line x1="503.0" y1="333.2" x2="507.8" y2="333.2" stroke="#454545" stroke-width="1.1"/>
<polygon points="505.4,319.3 508.1,322.5 505.4,325.7 502.7,322.5" fill="#b8b8b8" fill-opacity="0.55" stroke="#404040" stroke-width="1.1"/>
<line x1="505.4" y1="319.5" x2="505.4" y2="325.5" stroke="#555" stroke-width="0.6"/>
<line x1="518.8" y1="329.0" x2="518.8" y2="337.3" stroke="#454545" stroke-width="1.2"/>
<line x1="516.4" y1="329.0" x2="521.2" y2="329.0" stroke="#454545" stroke-width="1.1"/>
<line x1="516.4" y1="337.3" x2="521.2" y2="337.3" stroke="#454545" stroke-width="1.1"/>
<polygon points="518.8,330.0 521.5,333.2 518.8,336.4 516.1,333.2" fill="#b8b8b8" fill-opacity="0.55" stroke="#404040" stroke-width="1.1"/>
<line x1="518.8" y1="330.2" x2="518.8" y2="336.2" stroke="#555" stroke-width="0.6"/>
<line x1="534.2" y1="319.8" x2="534.2" y2="338.0" stroke="#454545" stroke-width="1.2"/>
<line x1="531.8" y1="319.8" x2="536.6" y2="319.8" stroke="#454545" stroke-width="1.1"/>
<line x1="531.8" y1="338.0" x2="536.6" y2="338.0" stroke="#454545" stroke-width="1.1"/>
<polygon points="534.2,322.0 536.9,325.2 534.2,328.4 531.5,325.2" fill="#b8b8b8" fill-opacity="0.55" stroke="#404040" stroke-width="1.1"/>
<line x1="534.2" y1="322.2" x2="534.2" y2="328.2" stroke="#555" stroke-width="0.6"/>
<line x1="534.2" y1="332.0" x2="534.2" y2="339.0" stroke="#454545" stroke-width="1.2"/>
<line x1="531.8" y1="332.0" x2="536.6" y2="332.0" stroke="#454545" stroke-width="1.1"/>
<line x1="531.8" y1="339.0" x2="536.6" y2="339.0" stroke="#454545" stroke-width="1.1"/>
<polygon points="534.2,332.7 536.9,335.9 534.2,339.1 531.5,335.9" fill="#b8b8b8" fill-opacity="0.55" stroke="#404040" stroke-width="1.1"/>
<line x1="534.2" y1="332.9" x2="534.2" y2="338.9" stroke="#555" stroke-width="0.6"/>
<line x1="564.0" y1="326.0" x2="564.0" y2="338.0" stroke="#454545" stroke-width="1.2"/>
<line x1="561.6" y1="326.0" x2="566.4" y2="326.0" stroke="#454545" stroke-width="1.1"/>
<line x1="561.6" y1="338.0" x2="566.4" y2="338.0" stroke="#454545" stroke-width="1.1"/>
<polygon points="564.0,327.5 566.7,330.7 564.0,333.9 561.3,330.7" fill="#b8b8b8" fill-opacity="0.55" stroke="#404040" stroke-width="1.1"/>
<line x1="564.0" y1="327.7" x2="564.0" y2="333.7" stroke="#555" stroke-width="0.6"/>
<line x1="578.0" y1="320.0" x2="578.0" y2="333.0" stroke="#454545" stroke-width="1.2"/>
<line x1="575.6" y1="320.0" x2="580.4" y2="320.0" stroke="#454545" stroke-width="1.1"/>
<line x1="575.6" y1="333.0" x2="580.4" y2="333.0" stroke="#454545" stroke-width="1.1"/>
<polygon points="578.0,322.3 580.7,325.5 578.0,328.7 575.3,325.5" fill="#b8b8b8" fill-opacity="0.55" stroke="#404040" stroke-width="1.1"/>
<line x1="578.0" y1="322.5" x2="578.0" y2="328.5" stroke="#555" stroke-width="0.6"/>
<line x1="584.5" y1="318.0" x2="584.5" y2="330.0" stroke="#454545" stroke-width="1.2"/>
<line x1="582.1" y1="318.0" x2="586.9" y2="318.0" stroke="#454545" stroke-width="1.1"/>
<line x1="582.1" y1="330.0" x2="586.9" y2="330.0" stroke="#454545" stroke-width="1.1"/>
<polygon points="584.5,319.8 587.2,323.0 584.5,326.2 581.8,323.0" fill="#b8b8b8" fill-opacity="0.55" stroke="#404040" stroke-width="1.1"/>
<line x1="584.5" y1="320.0" x2="584.5" y2="326.0" stroke="#555" stroke-width="0.6"/>
<line x1="593.5" y1="314.0" x2="593.5" y2="330.0" stroke="#454545" stroke-width="1.2"/>
<line x1="591.1" y1="314.0" x2="595.9" y2="314.0" stroke="#454545" stroke-width="1.1"/>
<line x1="591.1" y1="330.0" x2="595.9" y2="330.0" stroke="#454545" stroke-width="1.1"/>
<polygon points="593.5,316.8 596.2,320.0 593.5,323.2 590.8,320.0" fill="#b8b8b8" fill-opacity="0.55" stroke="#404040" stroke-width="1.1"/>
<line x1="593.5" y1="317.0" x2="593.5" y2="323.0" stroke="#555" stroke-width="0.6"/>
<line x1="605.0" y1="312.0" x2="605.0" y2="327.0" stroke="#454545" stroke-width="1.2"/>
<line x1="602.6" y1="312.0" x2="607.4" y2="312.0" stroke="#454545" stroke-width="1.1"/>
<line x1="602.6" y1="327.0" x2="607.4" y2="327.0" stroke="#454545" stroke-width="1.1"/>
<polygon points="605.0,313.8 607.7,317.0 605.0,320.2 602.3,317.0" fill="#b8b8b8" fill-opacity="0.55" stroke="#404040" stroke-width="1.1"/>
<line x1="605.0" y1="314.0" x2="605.0" y2="320.0" stroke="#555" stroke-width="0.6"/>
<line x1="472.1" y1="34.1" x2="472.1" y2="164.1" stroke="#111" stroke-width="1.9"/>
<line x1="682.5" y1="34.1" x2="682.5" y2="164.1" stroke="#111" stroke-width="1.9"/>
<line x1="472.1" y1="163.2" x2="682.5" y2="163.2" stroke="#111" stroke-width="1.6"/>
<line x1="472.1" y1="35.3" x2="682.5" y2="35.3" stroke="#111" stroke-width="0.8"/>
<line x1="471.2" y1="34.1" x2="682.5" y2="34.1" stroke="#78b93c" stroke-width="2"/>
<line x1="472.1" y1="163.2" x2="474.3" y2="163.2" stroke="#000" stroke-width="0.7"/>
<line x1="682.5" y1="163.2" x2="680.3" y2="163.2" stroke="#000" stroke-width="0.7"/>
<line x1="472.1" y1="156.7" x2="473.3" y2="156.7" stroke="#000" stroke-width="0.7"/>
<line x1="682.5" y1="156.7" x2="681.3" y2="156.7" stroke="#000" stroke-width="0.7"/>
<line x1="472.1" y1="152.9" x2="473.3" y2="152.9" stroke="#000" stroke-width="0.7"/>
<line x1="682.5" y1="152.9" x2="681.3" y2="152.9" stroke="#000" stroke-width="0.7"/>
<line x1="472.1" y1="150.2" x2="473.3" y2="150.2" stroke="#000" stroke-width="0.7"/>
<line x1="682.5" y1="150.2" x2="681.3" y2="150.2" stroke="#000" stroke-width="0.7"/>
<line x1="472.1" y1="148.2" x2="473.3" y2="148.2" stroke="#000" stroke-width="0.7"/>
<line x1="682.5" y1="148.2" x2="681.3" y2="148.2" stroke="#000" stroke-width="0.7"/>
<line x1="472.1" y1="146.5" x2="473.3" y2="146.5" stroke="#000" stroke-width="0.7"/>
<line x1="682.5" y1="146.5" x2="681.3" y2="146.5" stroke="#000" stroke-width="0.7"/>
<line x1="472.1" y1="145.0" x2="473.3" y2="145.0" stroke="#000" stroke-width="0.7"/>
<line x1="682.5" y1="145.0" x2="681.3" y2="145.0" stroke="#000" stroke-width="0.7"/>
<line x1="472.1" y1="143.8" x2="473.3" y2="143.8" stroke="#000" stroke-width="0.7"/>
<line x1="682.5" y1="143.8" x2="681.3" y2="143.8" stroke="#000" stroke-width="0.7"/>
<line x1="472.1" y1="142.7" x2="473.3" y2="142.7" stroke="#000" stroke-width="0.7"/>
<line x1="682.5" y1="142.7" x2="681.3" y2="142.7" stroke="#000" stroke-width="0.7"/>
<line x1="472.1" y1="141.7" x2="474.3" y2="141.7" stroke="#000" stroke-width="0.7"/>
<line x1="682.5" y1="141.7" x2="680.3" y2="141.7" stroke="#000" stroke-width="0.7"/>
<line x1="472.1" y1="135.2" x2="473.3" y2="135.2" stroke="#000" stroke-width="0.7"/>
<line x1="682.5" y1="135.2" x2="681.3" y2="135.2" stroke="#000" stroke-width="0.7"/>
<line x1="472.1" y1="131.4" x2="473.3" y2="131.4" stroke="#000" stroke-width="0.7"/>
<line x1="682.5" y1="131.4" x2="681.3" y2="131.4" stroke="#000" stroke-width="0.7"/>
<line x1="472.1" y1="128.7" x2="473.3" y2="128.7" stroke="#000" stroke-width="0.7"/>
<line x1="682.5" y1="128.7" x2="681.3" y2="128.7" stroke="#000" stroke-width="0.7"/>
<line x1="472.1" y1="126.6" x2="473.3" y2="126.6" stroke="#000" stroke-width="0.7"/>
<line x1="682.5" y1="126.6" x2="681.3" y2="126.6" stroke="#000" stroke-width="0.7"/>
<line x1="472.1" y1="124.9" x2="473.3" y2="124.9" stroke="#000" stroke-width="0.7"/>
<line x1="682.5" y1="124.9" x2="681.3" y2="124.9" stroke="#000" stroke-width="0.7"/>
<line x1="472.1" y1="123.5" x2="473.3" y2="123.5" stroke="#000" stroke-width="0.7"/>
<line x1="682.5" y1="123.5" x2="681.3" y2="123.5" stroke="#000" stroke-width="0.7"/>
<line x1="472.1" y1="122.3" x2="473.3" y2="122.3" stroke="#000" stroke-width="0.7"/>
<line x1="682.5" y1="122.3" x2="681.3" y2="122.3" stroke="#000" stroke-width="0.7"/>
<line x1="472.1" y1="121.2" x2="473.3" y2="121.2" stroke="#000" stroke-width="0.7"/>
<line x1="682.5" y1="121.2" x2="681.3" y2="121.2" stroke="#000" stroke-width="0.7"/>
<line x1="472.1" y1="120.2" x2="474.3" y2="120.2" stroke="#000" stroke-width="0.7"/>
<line x1="682.5" y1="120.2" x2="680.3" y2="120.2" stroke="#000" stroke-width="0.7"/>
<line x1="472.1" y1="113.7" x2="473.3" y2="113.7" stroke="#000" stroke-width="0.7"/>
<line x1="682.5" y1="113.7" x2="681.3" y2="113.7" stroke="#000" stroke-width="0.7"/>
<line x1="472.1" y1="109.9" x2="473.3" y2="109.9" stroke="#000" stroke-width="0.7"/>
<line x1="682.5" y1="109.9" x2="681.3" y2="109.9" stroke="#000" stroke-width="0.7"/>
<line x1="472.1" y1="107.2" x2="473.3" y2="107.2" stroke="#000" stroke-width="0.7"/>
<line x1="682.5" y1="107.2" x2="681.3" y2="107.2" stroke="#000" stroke-width="0.7"/>
<line x1="472.1" y1="105.1" x2="473.3" y2="105.1" stroke="#000" stroke-width="0.7"/>
<line x1="682.5" y1="105.1" x2="681.3" y2="105.1" stroke="#000" stroke-width="0.7"/>
<line x1="472.1" y1="103.4" x2="473.3" y2="103.4" stroke="#000" stroke-width="0.7"/>
<line x1="682.5" y1="103.4" x2="681.3" y2="103.4" stroke="#000" stroke-width="0.7"/>
<line x1="472.1" y1="102.0" x2="473.3" y2="102.0" stroke="#000" stroke-width="0.7"/>
<line x1="682.5" y1="102.0" x2="681.3" y2="102.0" stroke="#000" stroke-width="0.7"/>
<line x1="472.1" y1="100.7" x2="473.3" y2="100.7" stroke="#000" stroke-width="0.7"/>
<line x1="682.5" y1="100.7" x2="681.3" y2="100.7" stroke="#000" stroke-width="0.7"/>
<line x1="472.1" y1="99.6" x2="473.3" y2="99.6" stroke="#000" stroke-width="0.7"/>
<line x1="682.5" y1="99.6" x2="681.3" y2="99.6" stroke="#000" stroke-width="0.7"/>
<line x1="472.1" y1="98.7" x2="474.3" y2="98.7" stroke="#000" stroke-width="0.7"/>
<line x1="682.5" y1="98.7" x2="680.3" y2="98.7" stroke="#000" stroke-width="0.7"/>
<line x1="472.1" y1="92.2" x2="473.3" y2="92.2" stroke="#000" stroke-width="0.7"/>
<line x1="682.5" y1="92.2" x2="681.3" y2="92.2" stroke="#000" stroke-width="0.7"/>
<line x1="472.1" y1="88.4" x2="473.3" y2="88.4" stroke="#000" stroke-width="0.7"/>
<line x1="682.5" y1="88.4" x2="681.3" y2="88.4" stroke="#000" stroke-width="0.7"/>
<line x1="472.1" y1="85.7" x2="473.3" y2="85.7" stroke="#000" stroke-width="0.7"/>
<line x1="682.5" y1="85.7" x2="681.3" y2="85.7" stroke="#000" stroke-width="0.7"/>
<line x1="472.1" y1="83.6" x2="473.3" y2="83.6" stroke="#000" stroke-width="0.7"/>
<line x1="682.5" y1="83.6" x2="681.3" y2="83.6" stroke="#000" stroke-width="0.7"/>
<line x1="472.1" y1="81.9" x2="473.3" y2="81.9" stroke="#000" stroke-width="0.7"/>
<line x1="682.5" y1="81.9" x2="681.3" y2="81.9" stroke="#000" stroke-width="0.7"/>
<line x1="472.1" y1="80.5" x2="473.3" y2="80.5" stroke="#000" stroke-width="0.7"/>
<line x1="682.5" y1="80.5" x2="681.3" y2="80.5" stroke="#000" stroke-width="0.7"/>
<line x1="472.1" y1="79.2" x2="473.3" y2="79.2" stroke="#000" stroke-width="0.7"/>
<line x1="682.5" y1="79.2" x2="681.3" y2="79.2" stroke="#000" stroke-width="0.7"/>
<line x1="472.1" y1="78.1" x2="473.3" y2="78.1" stroke="#000" stroke-width="0.7"/>
<line x1="682.5" y1="78.1" x2="681.3" y2="78.1" stroke="#000" stroke-width="0.7"/>
<line x1="472.1" y1="77.1" x2="474.3" y2="77.1" stroke="#000" stroke-width="0.7"/>
<line x1="682.5" y1="77.1" x2="680.3" y2="77.1" stroke="#000" stroke-width="0.7"/>
<line x1="472.1" y1="70.7" x2="473.3" y2="70.7" stroke="#000" stroke-width="0.7"/>
<line x1="682.5" y1="70.7" x2="681.3" y2="70.7" stroke="#000" stroke-width="0.7"/>
<line x1="472.1" y1="66.9" x2="473.3" y2="66.9" stroke="#000" stroke-width="0.7"/>
<line x1="682.5" y1="66.9" x2="681.3" y2="66.9" stroke="#000" stroke-width="0.7"/>
<line x1="472.1" y1="64.2" x2="473.3" y2="64.2" stroke="#000" stroke-width="0.7"/>
<line x1="682.5" y1="64.2" x2="681.3" y2="64.2" stroke="#000" stroke-width="0.7"/>
<line x1="472.1" y1="62.1" x2="473.3" y2="62.1" stroke="#000" stroke-width="0.7"/>
<line x1="682.5" y1="62.1" x2="681.3" y2="62.1" stroke="#000" stroke-width="0.7"/>
<line x1="472.1" y1="60.4" x2="473.3" y2="60.4" stroke="#000" stroke-width="0.7"/>
<line x1="682.5" y1="60.4" x2="681.3" y2="60.4" stroke="#000" stroke-width="0.7"/>
<line x1="472.1" y1="58.9" x2="473.3" y2="58.9" stroke="#000" stroke-width="0.7"/>
<line x1="682.5" y1="58.9" x2="681.3" y2="58.9" stroke="#000" stroke-width="0.7"/>
<line x1="472.1" y1="57.7" x2="473.3" y2="57.7" stroke="#000" stroke-width="0.7"/>
<line x1="682.5" y1="57.7" x2="681.3" y2="57.7" stroke="#000" stroke-width="0.7"/>
<line x1="472.1" y1="56.6" x2="473.3" y2="56.6" stroke="#000" stroke-width="0.7"/>
<line x1="682.5" y1="56.6" x2="681.3" y2="56.6" stroke="#000" stroke-width="0.7"/>
<line x1="472.1" y1="55.6" x2="474.3" y2="55.6" stroke="#000" stroke-width="0.7"/>
<line x1="682.5" y1="55.6" x2="680.3" y2="55.6" stroke="#000" stroke-width="0.7"/>
<line x1="472.1" y1="49.1" x2="473.3" y2="49.1" stroke="#000" stroke-width="0.7"/>
<line x1="682.5" y1="49.1" x2="681.3" y2="49.1" stroke="#000" stroke-width="0.7"/>
<line x1="472.1" y1="45.4" x2="473.3" y2="45.4" stroke="#000" stroke-width="0.7"/>
<line x1="682.5" y1="45.4" x2="681.3" y2="45.4" stroke="#000" stroke-width="0.7"/>
<line x1="472.1" y1="42.7" x2="473.3" y2="42.7" stroke="#000" stroke-width="0.7"/>
<line x1="682.5" y1="42.7" x2="681.3" y2="42.7" stroke="#000" stroke-width="0.7"/>
<line x1="472.1" y1="40.6" x2="473.3" y2="40.6" stroke="#000" stroke-width="0.7"/>
<line x1="682.5" y1="40.6" x2="681.3" y2="40.6" stroke="#000" stroke-width="0.7"/>
<line x1="472.1" y1="38.9" x2="473.3" y2="38.9" stroke="#000" stroke-width="0.7"/>
<line x1="682.5" y1="38.9" x2="681.3" y2="38.9" stroke="#000" stroke-width="0.7"/>
<line x1="472.1" y1="37.4" x2="473.3" y2="37.4" stroke="#000" stroke-width="0.7"/>
<line x1="682.5" y1="37.4" x2="681.3" y2="37.4" stroke="#000" stroke-width="0.7"/>
<line x1="472.1" y1="36.2" x2="473.3" y2="36.2" stroke="#000" stroke-width="0.7"/>
<line x1="682.5" y1="36.2" x2="681.3" y2="36.2" stroke="#000" stroke-width="0.7"/>
<line x1="472.1" y1="35.1" x2="473.3" y2="35.1" stroke="#000" stroke-width="0.7"/>
<line x1="682.5" y1="35.1" x2="681.3" y2="35.1" stroke="#000" stroke-width="0.7"/>
<line x1="474.2" y1="163.2" x2="474.2" y2="161.0" stroke="#000" stroke-width="0.7"/>
<line x1="474.2" y1="35.1" x2="474.2" y2="37.3" stroke="#000" stroke-width="0.7"/>
<line x1="483.2" y1="163.2" x2="483.2" y2="162.0" stroke="#000" stroke-width="0.7"/>
<line x1="483.2" y1="35.1" x2="483.2" y2="36.3" stroke="#000" stroke-width="0.7"/>
<line x1="488.4" y1="163.2" x2="488.4" y2="162.0" stroke="#000" stroke-width="0.7"/>
<line x1="488.4" y1="35.1" x2="488.4" y2="36.3" stroke="#000" stroke-width="0.7"/>
<line x1="492.1" y1="163.2" x2="492.1" y2="162.0" stroke="#000" stroke-width="0.7"/>
<line x1="492.1" y1="35.1" x2="492.1" y2="36.3" stroke="#000" stroke-width="0.7"/>
<line x1="495.0" y1="163.2" x2="495.0" y2="162.0" stroke="#000" stroke-width="0.7"/>
<line x1="495.0" y1="35.1" x2="495.0" y2="36.3" stroke="#000" stroke-width="0.7"/>
<line x1="497.3" y1="163.2" x2="497.3" y2="162.0" stroke="#000" stroke-width="0.7"/>
<line x1="497.3" y1="35.1" x2="497.3" y2="36.3" stroke="#000" stroke-width="0.7"/>
<line x1="499.3" y1="163.2" x2="499.3" y2="162.0" stroke="#000" stroke-width="0.7"/>
<line x1="499.3" y1="35.1" x2="499.3" y2="36.3" stroke="#000" stroke-width="0.7"/>
<line x1="501.1" y1="163.2" x2="501.1" y2="162.0" stroke="#000" stroke-width="0.7"/>
<line x1="501.1" y1="35.1" x2="501.1" y2="36.3" stroke="#000" stroke-width="0.7"/>
<line x1="502.6" y1="163.2" x2="502.6" y2="162.0" stroke="#000" stroke-width="0.7"/>
<line x1="502.6" y1="35.1" x2="502.6" y2="36.3" stroke="#000" stroke-width="0.7"/>
<line x1="504.0" y1="163.2" x2="504.0" y2="161.0" stroke="#000" stroke-width="0.7"/>
<line x1="504.0" y1="35.1" x2="504.0" y2="37.3" stroke="#000" stroke-width="0.7"/>
<line x1="512.9" y1="163.2" x2="512.9" y2="162.0" stroke="#000" stroke-width="0.7"/>
<line x1="512.9" y1="35.1" x2="512.9" y2="36.3" stroke="#000" stroke-width="0.7"/>
<line x1="518.1" y1="163.2" x2="518.1" y2="162.0" stroke="#000" stroke-width="0.7"/>
<line x1="518.1" y1="35.1" x2="518.1" y2="36.3" stroke="#000" stroke-width="0.7"/>
<line x1="521.9" y1="163.2" x2="521.9" y2="162.0" stroke="#000" stroke-width="0.7"/>
<line x1="521.9" y1="35.1" x2="521.9" y2="36.3" stroke="#000" stroke-width="0.7"/>
<line x1="524.7" y1="163.2" x2="524.7" y2="162.0" stroke="#000" stroke-width="0.7"/>
<line x1="524.7" y1="35.1" x2="524.7" y2="36.3" stroke="#000" stroke-width="0.7"/>
<line x1="527.1" y1="163.2" x2="527.1" y2="162.0" stroke="#000" stroke-width="0.7"/>
<line x1="527.1" y1="35.1" x2="527.1" y2="36.3" stroke="#000" stroke-width="0.7"/>
<line x1="529.1" y1="163.2" x2="529.1" y2="162.0" stroke="#000" stroke-width="0.7"/>
<line x1="529.1" y1="35.1" x2="529.1" y2="36.3" stroke="#000" stroke-width="0.7"/>
<line x1="530.8" y1="163.2" x2="530.8" y2="162.0" stroke="#000" stroke-width="0.7"/>
<line x1="530.8" y1="35.1" x2="530.8" y2="36.3" stroke="#000" stroke-width="0.7"/>
<line x1="532.3" y1="163.2" x2="532.3" y2="162.0" stroke="#000" stroke-width="0.7"/>
<line x1="532.3" y1="35.1" x2="532.3" y2="36.3" stroke="#000" stroke-width="0.7"/>
<line x1="533.7" y1="163.2" x2="533.7" y2="161.0" stroke="#000" stroke-width="0.7"/>
<line x1="533.7" y1="35.1" x2="533.7" y2="37.3" stroke="#000" stroke-width="0.7"/>
<line x1="542.7" y1="163.2" x2="542.7" y2="162.0" stroke="#000" stroke-width="0.7"/>
<line x1="542.7" y1="35.1" x2="542.7" y2="36.3" stroke="#000" stroke-width="0.7"/>
<line x1="547.9" y1="163.2" x2="547.9" y2="162.0" stroke="#000" stroke-width="0.7"/>
<line x1="547.9" y1="35.1" x2="547.9" y2="36.3" stroke="#000" stroke-width="0.7"/>
<line x1="551.6" y1="163.2" x2="551.6" y2="162.0" stroke="#000" stroke-width="0.7"/>
<line x1="551.6" y1="35.1" x2="551.6" y2="36.3" stroke="#000" stroke-width="0.7"/>
<line x1="554.5" y1="163.2" x2="554.5" y2="162.0" stroke="#000" stroke-width="0.7"/>
<line x1="554.5" y1="35.1" x2="554.5" y2="36.3" stroke="#000" stroke-width="0.7"/>
<line x1="556.8" y1="163.2" x2="556.8" y2="162.0" stroke="#000" stroke-width="0.7"/>
<line x1="556.8" y1="35.1" x2="556.8" y2="36.3" stroke="#000" stroke-width="0.7"/>
<line x1="558.8" y1="163.2" x2="558.8" y2="162.0" stroke="#000" stroke-width="0.7"/>
<line x1="558.8" y1="35.1" x2="558.8" y2="36.3" stroke="#000" stroke-width="0.7"/>
<line x1="560.6" y1="163.2" x2="560.6" y2="162.0" stroke="#000" stroke-width="0.7"/>
<line x1="560.6" y1="35.1" x2="560.6" y2="36.3" stroke="#000" stroke-width="0.7"/>
<line x1="562.1" y1="163.2" x2="562.1" y2="162.0" stroke="#000" stroke-width="0.7"/>
<line x1="562.1" y1="35.1" x2="562.1" y2="36.3" stroke="#000" stroke-width="0.7"/>
<line x1="563.5" y1="163.2" x2="563.5" y2="161.0" stroke="#000" stroke-width="0.7"/>
<line x1="563.5" y1="35.1" x2="563.5" y2="37.3" stroke="#000" stroke-width="0.7"/>
<line x1="572.4" y1="163.2" x2="572.4" y2="162.0" stroke="#000" stroke-width="0.7"/>
<line x1="572.4" y1="35.1" x2="572.4" y2="36.3" stroke="#000" stroke-width="0.7"/>
<line x1="577.6" y1="163.2" x2="577.6" y2="162.0" stroke="#000" stroke-width="0.7"/>
<line x1="577.6" y1="35.1" x2="577.6" y2="36.3" stroke="#000" stroke-width="0.7"/>
<line x1="581.4" y1="163.2" x2="581.4" y2="162.0" stroke="#000" stroke-width="0.7"/>
<line x1="581.4" y1="35.1" x2="581.4" y2="36.3" stroke="#000" stroke-width="0.7"/>
<line x1="584.2" y1="163.2" x2="584.2" y2="162.0" stroke="#000" stroke-width="0.7"/>
<line x1="584.2" y1="35.1" x2="584.2" y2="36.3" stroke="#000" stroke-width="0.7"/>
<line x1="586.6" y1="163.2" x2="586.6" y2="162.0" stroke="#000" stroke-width="0.7"/>
<line x1="586.6" y1="35.1" x2="586.6" y2="36.3" stroke="#000" stroke-width="0.7"/>
<line x1="588.6" y1="163.2" x2="588.6" y2="162.0" stroke="#000" stroke-width="0.7"/>
<line x1="588.6" y1="35.1" x2="588.6" y2="36.3" stroke="#000" stroke-width="0.7"/>
<line x1="590.3" y1="163.2" x2="590.3" y2="162.0" stroke="#000" stroke-width="0.7"/>
<line x1="590.3" y1="35.1" x2="590.3" y2="36.3" stroke="#000" stroke-width="0.7"/>
<line x1="591.8" y1="163.2" x2="591.8" y2="162.0" stroke="#000" stroke-width="0.7"/>
<line x1="591.8" y1="35.1" x2="591.8" y2="36.3" stroke="#000" stroke-width="0.7"/>
<line x1="593.2" y1="163.2" x2="593.2" y2="161.0" stroke="#000" stroke-width="0.7"/>
<line x1="593.2" y1="35.1" x2="593.2" y2="37.3" stroke="#000" stroke-width="0.7"/>
<line x1="602.2" y1="163.2" x2="602.2" y2="162.0" stroke="#000" stroke-width="0.7"/>
<line x1="602.2" y1="35.1" x2="602.2" y2="36.3" stroke="#000" stroke-width="0.7"/>
<line x1="607.4" y1="163.2" x2="607.4" y2="162.0" stroke="#000" stroke-width="0.7"/>
<line x1="607.4" y1="35.1" x2="607.4" y2="36.3" stroke="#000" stroke-width="0.7"/>
<line x1="611.1" y1="163.2" x2="611.1" y2="162.0" stroke="#000" stroke-width="0.7"/>
<line x1="611.1" y1="35.1" x2="611.1" y2="36.3" stroke="#000" stroke-width="0.7"/>
<line x1="614.0" y1="163.2" x2="614.0" y2="162.0" stroke="#000" stroke-width="0.7"/>
<line x1="614.0" y1="35.1" x2="614.0" y2="36.3" stroke="#000" stroke-width="0.7"/>
<line x1="616.3" y1="163.2" x2="616.3" y2="162.0" stroke="#000" stroke-width="0.7"/>
<line x1="616.3" y1="35.1" x2="616.3" y2="36.3" stroke="#000" stroke-width="0.7"/>
<line x1="618.3" y1="163.2" x2="618.3" y2="162.0" stroke="#000" stroke-width="0.7"/>
<line x1="618.3" y1="35.1" x2="618.3" y2="36.3" stroke="#000" stroke-width="0.7"/>
<line x1="620.1" y1="163.2" x2="620.1" y2="162.0" stroke="#000" stroke-width="0.7"/>
<line x1="620.1" y1="35.1" x2="620.1" y2="36.3" stroke="#000" stroke-width="0.7"/>
<line x1="621.6" y1="163.2" x2="621.6" y2="162.0" stroke="#000" stroke-width="0.7"/>
<line x1="621.6" y1="35.1" x2="621.6" y2="36.3" stroke="#000" stroke-width="0.7"/>
<line x1="623.0" y1="163.2" x2="623.0" y2="161.0" stroke="#000" stroke-width="0.7"/>
<line x1="623.0" y1="35.1" x2="623.0" y2="37.3" stroke="#000" stroke-width="0.7"/>
<line x1="631.9" y1="163.2" x2="631.9" y2="162.0" stroke="#000" stroke-width="0.7"/>
<line x1="631.9" y1="35.1" x2="631.9" y2="36.3" stroke="#000" stroke-width="0.7"/>
<line x1="637.1" y1="163.2" x2="637.1" y2="162.0" stroke="#000" stroke-width="0.7"/>
<line x1="637.1" y1="35.1" x2="637.1" y2="36.3" stroke="#000" stroke-width="0.7"/>
<line x1="640.9" y1="163.2" x2="640.9" y2="162.0" stroke="#000" stroke-width="0.7"/>
<line x1="640.9" y1="35.1" x2="640.9" y2="36.3" stroke="#000" stroke-width="0.7"/>
<line x1="643.7" y1="163.2" x2="643.7" y2="162.0" stroke="#000" stroke-width="0.7"/>
<line x1="643.7" y1="35.1" x2="643.7" y2="36.3" stroke="#000" stroke-width="0.7"/>
<line x1="646.1" y1="163.2" x2="646.1" y2="162.0" stroke="#000" stroke-width="0.7"/>
<line x1="646.1" y1="35.1" x2="646.1" y2="36.3" stroke="#000" stroke-width="0.7"/>
<line x1="648.1" y1="163.2" x2="648.1" y2="162.0" stroke="#000" stroke-width="0.7"/>
<line x1="648.1" y1="35.1" x2="648.1" y2="36.3" stroke="#000" stroke-width="0.7"/>
<line x1="649.8" y1="163.2" x2="649.8" y2="162.0" stroke="#000" stroke-width="0.7"/>
<line x1="649.8" y1="35.1" x2="649.8" y2="36.3" stroke="#000" stroke-width="0.7"/>
<line x1="651.3" y1="163.2" x2="651.3" y2="162.0" stroke="#000" stroke-width="0.7"/>
<line x1="651.3" y1="35.1" x2="651.3" y2="36.3" stroke="#000" stroke-width="0.7"/>
<line x1="652.7" y1="163.2" x2="652.7" y2="161.0" stroke="#000" stroke-width="0.7"/>
<line x1="652.7" y1="35.1" x2="652.7" y2="37.3" stroke="#000" stroke-width="0.7"/>
<line x1="661.7" y1="163.2" x2="661.7" y2="162.0" stroke="#000" stroke-width="0.7"/>
<line x1="661.7" y1="35.1" x2="661.7" y2="36.3" stroke="#000" stroke-width="0.7"/>
<line x1="666.9" y1="163.2" x2="666.9" y2="162.0" stroke="#000" stroke-width="0.7"/>
<line x1="666.9" y1="35.1" x2="666.9" y2="36.3" stroke="#000" stroke-width="0.7"/>
<line x1="670.6" y1="163.2" x2="670.6" y2="162.0" stroke="#000" stroke-width="0.7"/>
<line x1="670.6" y1="35.1" x2="670.6" y2="36.3" stroke="#000" stroke-width="0.7"/>
<line x1="673.5" y1="163.2" x2="673.5" y2="162.0" stroke="#000" stroke-width="0.7"/>
<line x1="673.5" y1="35.1" x2="673.5" y2="36.3" stroke="#000" stroke-width="0.7"/>
<line x1="675.8" y1="163.2" x2="675.8" y2="162.0" stroke="#000" stroke-width="0.7"/>
<line x1="675.8" y1="35.1" x2="675.8" y2="36.3" stroke="#000" stroke-width="0.7"/>
<line x1="677.8" y1="163.2" x2="677.8" y2="162.0" stroke="#000" stroke-width="0.7"/>
<line x1="677.8" y1="35.1" x2="677.8" y2="36.3" stroke="#000" stroke-width="0.7"/>
<line x1="679.6" y1="163.2" x2="679.6" y2="162.0" stroke="#000" stroke-width="0.7"/>
<line x1="679.6" y1="35.1" x2="679.6" y2="36.3" stroke="#000" stroke-width="0.7"/>
<line x1="681.1" y1="163.2" x2="681.1" y2="162.0" stroke="#000" stroke-width="0.7"/>
<line x1="681.1" y1="35.1" x2="681.1" y2="36.3" stroke="#000" stroke-width="0.7"/>
<line x1="682.5" y1="163.2" x2="682.5" y2="161.0" stroke="#000" stroke-width="0.7"/>
<line x1="682.5" y1="35.1" x2="682.5" y2="37.3" stroke="#000" stroke-width="0.7"/>
<text x="467.8" y="40.1" font-size="11.2" fill="#222" text-anchor="end" stroke="#222" stroke-width="0.22">10<tspan dy="-4.9" font-size="8.8">2</tspan></text>
<text x="467.8" y="83.1" font-size="11.2" fill="#222" text-anchor="end" stroke="#222" stroke-width="0.22">10<tspan dy="-4.9" font-size="8.8">0</tspan></text>
<text x="467.8" y="126.2" font-size="11.2" fill="#222" text-anchor="end" stroke="#222" stroke-width="0.22">10<tspan dy="-4.9" font-size="8.8">-2</tspan></text>
<text x="467.8" y="169.2" font-size="11.2" fill="#222" text-anchor="end" stroke="#222" stroke-width="0.22">10<tspan dy="-4.9" font-size="8.8">-4</tspan></text>
<text x="474.2" y="181.7" font-size="11.2" fill="#222" text-anchor="middle" stroke="#222" stroke-width="0.22">10<tspan dy="-4.9" font-size="8.8">-2</tspan></text>
<text x="533.7" y="181.7" font-size="11.2" fill="#222" text-anchor="middle" stroke="#222" stroke-width="0.22">10<tspan dy="-4.9" font-size="8.8">0</tspan></text>
<text x="593.2" y="181.7" font-size="11.2" fill="#222" text-anchor="middle" stroke="#222" stroke-width="0.22">10<tspan dy="-4.9" font-size="8.8">2</tspan></text>
<text x="652.7" y="181.7" font-size="11.2" fill="#222" text-anchor="middle" stroke="#222" stroke-width="0.22">10<tspan dy="-4.9" font-size="8.8">4</tspan></text>
<text x="474.2" y="27.7" font-size="11.2" fill="#78b93c" text-anchor="middle" stroke="#78b93c" stroke-width="0.22">10<tspan dy="-4.9" font-size="8.8">2</tspan></text>
<text x="533.7" y="27.7" font-size="11.2" fill="#78b93c" text-anchor="middle" stroke="#78b93c" stroke-width="0.22">10<tspan dy="-4.9" font-size="8.8">0</tspan></text>
<text x="591.4" y="27.7" font-size="11.2" fill="#78b93c" text-anchor="middle" stroke="#78b93c" stroke-width="0.22">10<tspan dy="-4.9" font-size="8.8">-2</tspan></text>
<text x="650.9" y="27.7" font-size="11.2" fill="#78b93c" text-anchor="middle" stroke="#78b93c" stroke-width="0.22">10<tspan dy="-4.9" font-size="8.8">-4</tspan></text>
<text x="527.0" y="196.7" font-size="11.5" fill="#222" textLength="102.5" lengthAdjust="spacingAndGlyphs" stroke="#222" stroke-width="0.22">Frequency <tspan font-family="Liberation Serif" font-style="italic">ω</tspan> [rad/s]</text>
<text x="542.5" y="8.6" font-size="11.5" fill="#78b93c" textLength="70" lengthAdjust="spacingAndGlyphs" stroke="#78b93c" stroke-width="0.22">Lag time <tspan font-family="Liberation Serif" font-style="italic">τ</tspan> [s]</text>
<text transform="translate(441.2,98.6) rotate(-90)" font-size="11.5" text-anchor="middle" fill="#222" textLength="104.5" lengthAdjust="spacingAndGlyphs" stroke="#222" stroke-width="0.22">Stiffness <tspan font-family="Liberation Serif" font-style="italic">κ</tspan>* [pN/nm]</text>
<line x1="473.0" y1="243.0" x2="473.0" y2="373.2" stroke="#111" stroke-width="1.9"/>
<line x1="682.5" y1="243.0" x2="682.5" y2="373.2" stroke="#111" stroke-width="1.9"/>
<line x1="473.0" y1="372.3" x2="682.5" y2="372.3" stroke="#111" stroke-width="1.6"/>
<line x1="473.0" y1="244.2" x2="682.5" y2="244.2" stroke="#111" stroke-width="0.8"/>
<line x1="472.1" y1="243.0" x2="682.5" y2="243.0" stroke="#78b93c" stroke-width="2"/>
<line x1="473.0" y1="372.3" x2="475.2" y2="372.3" stroke="#000" stroke-width="0.7"/>
<line x1="682.5" y1="372.3" x2="680.3" y2="372.3" stroke="#000" stroke-width="0.7"/>
<line x1="473.0" y1="365.8" x2="474.2" y2="365.8" stroke="#000" stroke-width="0.7"/>
<line x1="682.5" y1="365.8" x2="681.3" y2="365.8" stroke="#000" stroke-width="0.7"/>
<line x1="473.0" y1="362.0" x2="474.2" y2="362.0" stroke="#000" stroke-width="0.7"/>
<line x1="682.5" y1="362.0" x2="681.3" y2="362.0" stroke="#000" stroke-width="0.7"/>
<line x1="473.0" y1="359.3" x2="474.2" y2="359.3" stroke="#000" stroke-width="0.7"/>
<line x1="682.5" y1="359.3" x2="681.3" y2="359.3" stroke="#000" stroke-width="0.7"/>
<line x1="473.0" y1="357.2" x2="474.2" y2="357.2" stroke="#000" stroke-width="0.7"/>
<line x1="682.5" y1="357.2" x2="681.3" y2="357.2" stroke="#000" stroke-width="0.7"/>
<line x1="473.0" y1="355.5" x2="474.2" y2="355.5" stroke="#000" stroke-width="0.7"/>
<line x1="682.5" y1="355.5" x2="681.3" y2="355.5" stroke="#000" stroke-width="0.7"/>
<line x1="473.0" y1="354.1" x2="474.2" y2="354.1" stroke="#000" stroke-width="0.7"/>
<line x1="682.5" y1="354.1" x2="681.3" y2="354.1" stroke="#000" stroke-width="0.7"/>
<line x1="473.0" y1="352.8" x2="474.2" y2="352.8" stroke="#000" stroke-width="0.7"/>
<line x1="682.5" y1="352.8" x2="681.3" y2="352.8" stroke="#000" stroke-width="0.7"/>
<line x1="473.0" y1="351.7" x2="474.2" y2="351.7" stroke="#000" stroke-width="0.7"/>
<line x1="682.5" y1="351.7" x2="681.3" y2="351.7" stroke="#000" stroke-width="0.7"/>
<line x1="473.0" y1="350.8" x2="475.2" y2="350.8" stroke="#000" stroke-width="0.7"/>
<line x1="682.5" y1="350.8" x2="680.3" y2="350.8" stroke="#000" stroke-width="0.7"/>
<line x1="473.0" y1="344.3" x2="474.2" y2="344.3" stroke="#000" stroke-width="0.7"/>
<line x1="682.5" y1="344.3" x2="681.3" y2="344.3" stroke="#000" stroke-width="0.7"/>
<line x1="473.0" y1="340.5" x2="474.2" y2="340.5" stroke="#000" stroke-width="0.7"/>
<line x1="682.5" y1="340.5" x2="681.3" y2="340.5" stroke="#000" stroke-width="0.7"/>
<line x1="473.0" y1="337.8" x2="474.2" y2="337.8" stroke="#000" stroke-width="0.7"/>
<line x1="682.5" y1="337.8" x2="681.3" y2="337.8" stroke="#000" stroke-width="0.7"/>
<line x1="473.0" y1="335.7" x2="474.2" y2="335.7" stroke="#000" stroke-width="0.7"/>
<line x1="682.5" y1="335.7" x2="681.3" y2="335.7" stroke="#000" stroke-width="0.7"/>
<line x1="473.0" y1="334.0" x2="474.2" y2="334.0" stroke="#000" stroke-width="0.7"/>
<line x1="682.5" y1="334.0" x2="681.3" y2="334.0" stroke="#000" stroke-width="0.7"/>
<line x1="473.0" y1="332.5" x2="474.2" y2="332.5" stroke="#000" stroke-width="0.7"/>
<line x1="682.5" y1="332.5" x2="681.3" y2="332.5" stroke="#000" stroke-width="0.7"/>
<line x1="473.0" y1="331.3" x2="474.2" y2="331.3" stroke="#000" stroke-width="0.7"/>
<line x1="682.5" y1="331.3" x2="681.3" y2="331.3" stroke="#000" stroke-width="0.7"/>
<line x1="473.0" y1="330.2" x2="474.2" y2="330.2" stroke="#000" stroke-width="0.7"/>
<line x1="682.5" y1="330.2" x2="681.3" y2="330.2" stroke="#000" stroke-width="0.7"/>
<line x1="473.0" y1="329.2" x2="475.2" y2="329.2" stroke="#000" stroke-width="0.7"/>
<line x1="682.5" y1="329.2" x2="680.3" y2="329.2" stroke="#000" stroke-width="0.7"/>
<line x1="473.0" y1="322.7" x2="474.2" y2="322.7" stroke="#000" stroke-width="0.7"/>
<line x1="682.5" y1="322.7" x2="681.3" y2="322.7" stroke="#000" stroke-width="0.7"/>
<line x1="473.0" y1="318.9" x2="474.2" y2="318.9" stroke="#000" stroke-width="0.7"/>
<line x1="682.5" y1="318.9" x2="681.3" y2="318.9" stroke="#000" stroke-width="0.7"/>
<line x1="473.0" y1="316.2" x2="474.2" y2="316.2" stroke="#000" stroke-width="0.7"/>
<line x1="682.5" y1="316.2" x2="681.3" y2="316.2" stroke="#000" stroke-width="0.7"/>
<line x1="473.0" y1="314.1" x2="474.2" y2="314.1" stroke="#000" stroke-width="0.7"/>
<line x1="682.5" y1="314.1" x2="681.3" y2="314.1" stroke="#000" stroke-width="0.7"/>
<line x1="473.0" y1="312.4" x2="474.2" y2="312.4" stroke="#000" stroke-width="0.7"/>
<line x1="682.5" y1="312.4" x2="681.3" y2="312.4" stroke="#000" stroke-width="0.7"/>
<line x1="473.0" y1="311.0" x2="474.2" y2="311.0" stroke="#000" stroke-width="0.7"/>
<line x1="682.5" y1="311.0" x2="681.3" y2="311.0" stroke="#000" stroke-width="0.7"/>
<line x1="473.0" y1="309.7" x2="474.2" y2="309.7" stroke="#000" stroke-width="0.7"/>
<line x1="682.5" y1="309.7" x2="681.3" y2="309.7" stroke="#000" stroke-width="0.7"/>
<line x1="473.0" y1="308.6" x2="474.2" y2="308.6" stroke="#000" stroke-width="0.7"/>
<line x1="682.5" y1="308.6" x2="681.3" y2="308.6" stroke="#000" stroke-width="0.7"/>
<line x1="473.0" y1="307.6" x2="475.2" y2="307.6" stroke="#000" stroke-width="0.7"/>
<line x1="682.5" y1="307.6" x2="680.3" y2="307.6" stroke="#000" stroke-width="0.7"/>
<line x1="473.0" y1="301.2" x2="474.2" y2="301.2" stroke="#000" stroke-width="0.7"/>
<line x1="682.5" y1="301.2" x2="681.3" y2="301.2" stroke="#000" stroke-width="0.7"/>
<line x1="473.0" y1="297.4" x2="474.2" y2="297.4" stroke="#000" stroke-width="0.7"/>
<line x1="682.5" y1="297.4" x2="681.3" y2="297.4" stroke="#000" stroke-width="0.7"/>
<line x1="473.0" y1="294.7" x2="474.2" y2="294.7" stroke="#000" stroke-width="0.7"/>
<line x1="682.5" y1="294.7" x2="681.3" y2="294.7" stroke="#000" stroke-width="0.7"/>
<line x1="473.0" y1="292.6" x2="474.2" y2="292.6" stroke="#000" stroke-width="0.7"/>
<line x1="682.5" y1="292.6" x2="681.3" y2="292.6" stroke="#000" stroke-width="0.7"/>
<line x1="473.0" y1="290.9" x2="474.2" y2="290.9" stroke="#000" stroke-width="0.7"/>
<line x1="682.5" y1="290.9" x2="681.3" y2="290.9" stroke="#000" stroke-width="0.7"/>
<line x1="473.0" y1="289.4" x2="474.2" y2="289.4" stroke="#000" stroke-width="0.7"/>
<line x1="682.5" y1="289.4" x2="681.3" y2="289.4" stroke="#000" stroke-width="0.7"/>
<line x1="473.0" y1="288.2" x2="474.2" y2="288.2" stroke="#000" stroke-width="0.7"/>
<line x1="682.5" y1="288.2" x2="681.3" y2="288.2" stroke="#000" stroke-width="0.7"/>
<line x1="473.0" y1="287.1" x2="474.2" y2="287.1" stroke="#000" stroke-width="0.7"/>
<line x1="682.5" y1="287.1" x2="681.3" y2="287.1" stroke="#000" stroke-width="0.7"/>
<line x1="473.0" y1="286.1" x2="475.2" y2="286.1" stroke="#000" stroke-width="0.7"/>
<line x1="682.5" y1="286.1" x2="680.3" y2="286.1" stroke="#000" stroke-width="0.7"/>
<line x1="473.0" y1="279.6" x2="474.2" y2="279.6" stroke="#000" stroke-width="0.7"/>
<line x1="682.5" y1="279.6" x2="681.3" y2="279.6" stroke="#000" stroke-width="0.7"/>
<line x1="473.0" y1="275.8" x2="474.2" y2="275.8" stroke="#000" stroke-width="0.7"/>
<line x1="682.5" y1="275.8" x2="681.3" y2="275.8" stroke="#000" stroke-width="0.7"/>
<line x1="473.0" y1="273.1" x2="474.2" y2="273.1" stroke="#000" stroke-width="0.7"/>
<line x1="682.5" y1="273.1" x2="681.3" y2="273.1" stroke="#000" stroke-width="0.7"/>
<line x1="473.0" y1="271.0" x2="474.2" y2="271.0" stroke="#000" stroke-width="0.7"/>
<line x1="682.5" y1="271.0" x2="681.3" y2="271.0" stroke="#000" stroke-width="0.7"/>
<line x1="473.0" y1="269.3" x2="474.2" y2="269.3" stroke="#000" stroke-width="0.7"/>
<line x1="682.5" y1="269.3" x2="681.3" y2="269.3" stroke="#000" stroke-width="0.7"/>
<line x1="473.0" y1="267.9" x2="474.2" y2="267.9" stroke="#000" stroke-width="0.7"/>
<line x1="682.5" y1="267.9" x2="681.3" y2="267.9" stroke="#000" stroke-width="0.7"/>
<line x1="473.0" y1="266.6" x2="474.2" y2="266.6" stroke="#000" stroke-width="0.7"/>
<line x1="682.5" y1="266.6" x2="681.3" y2="266.6" stroke="#000" stroke-width="0.7"/>
<line x1="473.0" y1="265.5" x2="474.2" y2="265.5" stroke="#000" stroke-width="0.7"/>
<line x1="682.5" y1="265.5" x2="681.3" y2="265.5" stroke="#000" stroke-width="0.7"/>
<line x1="473.0" y1="264.6" x2="475.2" y2="264.6" stroke="#000" stroke-width="0.7"/>
<line x1="682.5" y1="264.6" x2="680.3" y2="264.6" stroke="#000" stroke-width="0.7"/>
<line x1="473.0" y1="258.1" x2="474.2" y2="258.1" stroke="#000" stroke-width="0.7"/>
<line x1="682.5" y1="258.1" x2="681.3" y2="258.1" stroke="#000" stroke-width="0.7"/>
<line x1="473.0" y1="254.3" x2="474.2" y2="254.3" stroke="#000" stroke-width="0.7"/>
<line x1="682.5" y1="254.3" x2="681.3" y2="254.3" stroke="#000" stroke-width="0.7"/>
<line x1="473.0" y1="251.6" x2="474.2" y2="251.6" stroke="#000" stroke-width="0.7"/>
<line x1="682.5" y1="251.6" x2="681.3" y2="251.6" stroke="#000" stroke-width="0.7"/>
<line x1="473.0" y1="249.5" x2="474.2" y2="249.5" stroke="#000" stroke-width="0.7"/>
<line x1="682.5" y1="249.5" x2="681.3" y2="249.5" stroke="#000" stroke-width="0.7"/>
<line x1="473.0" y1="247.8" x2="474.2" y2="247.8" stroke="#000" stroke-width="0.7"/>
<line x1="682.5" y1="247.8" x2="681.3" y2="247.8" stroke="#000" stroke-width="0.7"/>
<line x1="473.0" y1="246.3" x2="474.2" y2="246.3" stroke="#000" stroke-width="0.7"/>
<line x1="682.5" y1="246.3" x2="681.3" y2="246.3" stroke="#000" stroke-width="0.7"/>
<line x1="473.0" y1="245.1" x2="474.2" y2="245.1" stroke="#000" stroke-width="0.7"/>
<line x1="682.5" y1="245.1" x2="681.3" y2="245.1" stroke="#000" stroke-width="0.7"/>
<line x1="473.0" y1="244.0" x2="474.2" y2="244.0" stroke="#000" stroke-width="0.7"/>
<line x1="682.5" y1="244.0" x2="681.3" y2="244.0" stroke="#000" stroke-width="0.7"/>
<line x1="475.6" y1="372.3" x2="475.6" y2="370.1" stroke="#000" stroke-width="0.7"/>
<line x1="475.6" y1="244.0" x2="475.6" y2="246.2" stroke="#000" stroke-width="0.7"/>
<line x1="484.5" y1="372.3" x2="484.5" y2="371.1" stroke="#000" stroke-width="0.7"/>
<line x1="484.5" y1="244.0" x2="484.5" y2="245.2" stroke="#000" stroke-width="0.7"/>
<line x1="489.8" y1="372.3" x2="489.8" y2="371.1" stroke="#000" stroke-width="0.7"/>
<line x1="489.8" y1="244.0" x2="489.8" y2="245.2" stroke="#000" stroke-width="0.7"/>
<line x1="493.5" y1="372.3" x2="493.5" y2="371.1" stroke="#000" stroke-width="0.7"/>
<line x1="493.5" y1="244.0" x2="493.5" y2="245.2" stroke="#000" stroke-width="0.7"/>
<line x1="496.4" y1="372.3" x2="496.4" y2="371.1" stroke="#000" stroke-width="0.7"/>
<line x1="496.4" y1="244.0" x2="496.4" y2="245.2" stroke="#000" stroke-width="0.7"/>
<line x1="498.7" y1="372.3" x2="498.7" y2="371.1" stroke="#000" stroke-width="0.7"/>
<line x1="498.7" y1="244.0" x2="498.7" y2="245.2" stroke="#000" stroke-width="0.7"/>
<line x1="500.7" y1="372.3" x2="500.7" y2="371.1" stroke="#000" stroke-width="0.7"/>
<line x1="500.7" y1="244.0" x2="500.7" y2="245.2" stroke="#000" stroke-width="0.7"/>
<line x1="502.4" y1="372.3" x2="502.4" y2="371.1" stroke="#000" stroke-width="0.7"/>
<line x1="502.4" y1="244.0" x2="502.4" y2="245.2" stroke="#000" stroke-width="0.7"/>
<line x1="503.9" y1="372.3" x2="503.9" y2="371.1" stroke="#000" stroke-width="0.7"/>
<line x1="503.9" y1="244.0" x2="503.9" y2="245.2" stroke="#000" stroke-width="0.7"/>
<line x1="505.3" y1="372.3" x2="505.3" y2="370.1" stroke="#000" stroke-width="0.7"/>
<line x1="505.3" y1="244.0" x2="505.3" y2="246.2" stroke="#000" stroke-width="0.7"/>
<line x1="514.2" y1="372.3" x2="514.2" y2="371.1" stroke="#000" stroke-width="0.7"/>
<line x1="514.2" y1="244.0" x2="514.2" y2="245.2" stroke="#000" stroke-width="0.7"/>
<line x1="519.5" y1="372.3" x2="519.5" y2="371.1" stroke="#000" stroke-width="0.7"/>
<line x1="519.5" y1="244.0" x2="519.5" y2="245.2" stroke="#000" stroke-width="0.7"/>
<line x1="523.2" y1="372.3" x2="523.2" y2="371.1" stroke="#000" stroke-width="0.7"/>
<line x1="523.2" y1="244.0" x2="523.2" y2="245.2" stroke="#000" stroke-width="0.7"/>
<line x1="526.1" y1="372.3" x2="526.1" y2="371.1" stroke="#000" stroke-width="0.7"/>
<line x1="526.1" y1="244.0" x2="526.1" y2="245.2" stroke="#000" stroke-width="0.7"/>
<line x1="528.4" y1="372.3" x2="528.4" y2="371.1" stroke="#000" stroke-width="0.7"/>
<line x1="528.4" y1="244.0" x2="528.4" y2="245.2" stroke="#000" stroke-width="0.7"/>
<line x1="530.4" y1="372.3" x2="530.4" y2="371.1" stroke="#000" stroke-width="0.7"/>
<line x1="530.4" y1="244.0" x2="530.4" y2="245.2" stroke="#000" stroke-width="0.7"/>
<line x1="532.1" y1="372.3" x2="532.1" y2="371.1" stroke="#000" stroke-width="0.7"/>
<line x1="532.1" y1="244.0" x2="532.1" y2="245.2" stroke="#000" stroke-width="0.7"/>
<line x1="533.6" y1="372.3" x2="533.6" y2="371.1" stroke="#000" stroke-width="0.7"/>
<line x1="533.6" y1="244.0" x2="533.6" y2="245.2" stroke="#000" stroke-width="0.7"/>
<line x1="535.0" y1="372.3" x2="535.0" y2="370.1" stroke="#000" stroke-width="0.7"/>
<line x1="535.0" y1="244.0" x2="535.0" y2="246.2" stroke="#000" stroke-width="0.7"/>
<line x1="543.9" y1="372.3" x2="543.9" y2="371.1" stroke="#000" stroke-width="0.7"/>
<line x1="543.9" y1="244.0" x2="543.9" y2="245.2" stroke="#000" stroke-width="0.7"/>
<line x1="549.2" y1="372.3" x2="549.2" y2="371.1" stroke="#000" stroke-width="0.7"/>
<line x1="549.2" y1="244.0" x2="549.2" y2="245.2" stroke="#000" stroke-width="0.7"/>
<line x1="552.9" y1="372.3" x2="552.9" y2="371.1" stroke="#000" stroke-width="0.7"/>
<line x1="552.9" y1="244.0" x2="552.9" y2="245.2" stroke="#000" stroke-width="0.7"/>
<line x1="555.8" y1="372.3" x2="555.8" y2="371.1" stroke="#000" stroke-width="0.7"/>
<line x1="555.8" y1="244.0" x2="555.8" y2="245.2" stroke="#000" stroke-width="0.7"/>
<line x1="558.1" y1="372.3" x2="558.1" y2="371.1" stroke="#000" stroke-width="0.7"/>
<line x1="558.1" y1="244.0" x2="558.1" y2="245.2" stroke="#000" stroke-width="0.7"/>
<line x1="560.1" y1="372.3" x2="560.1" y2="371.1" stroke="#000" stroke-width="0.7"/>
<line x1="560.1" y1="244.0" x2="560.1" y2="245.2" stroke="#000" stroke-width="0.7"/>
<line x1="561.8" y1="372.3" x2="561.8" y2="371.1" stroke="#000" stroke-width="0.7"/>
<line x1="561.8" y1="244.0" x2="561.8" y2="245.2" stroke="#000" stroke-width="0.7"/>
<line x1="563.3" y1="372.3" x2="563.3" y2="371.1" stroke="#000" stroke-width="0.7"/>
<line x1="563.3" y1="244.0" x2="563.3" y2="245.2" stroke="#000" stroke-width="0.7"/>
<line x1="564.7" y1="372.3" x2="564.7" y2="370.1" stroke="#000" stroke-width="0.7"/>
<line x1="564.7" y1="244.0" x2="564.7" y2="246.2" stroke="#000" stroke-width="0.7"/>
<line x1="573.6" y1="372.3" x2="573.6" y2="371.1" stroke="#000" stroke-width="0.7"/>
<line x1="573.6" y1="244.0" x2="573.6" y2="245.2" stroke="#000" stroke-width="0.7"/>
<line x1="578.9" y1="372.3" x2="578.9" y2="371.1" stroke="#000" stroke-width="0.7"/>
<line x1="578.9" y1="244.0" x2="578.9" y2="245.2" stroke="#000" stroke-width="0.7"/>
<line x1="582.6" y1="372.3" x2="582.6" y2="371.1" stroke="#000" stroke-width="0.7"/>
<line x1="582.6" y1="244.0" x2="582.6" y2="245.2" stroke="#000" stroke-width="0.7"/>
<line x1="585.5" y1="372.3" x2="585.5" y2="371.1" stroke="#000" stroke-width="0.7"/>
<line x1="585.5" y1="244.0" x2="585.5" y2="245.2" stroke="#000" stroke-width="0.7"/>
<line x1="587.8" y1="372.3" x2="587.8" y2="371.1" stroke="#000" stroke-width="0.7"/>
<line x1="587.8" y1="244.0" x2="587.8" y2="245.2" stroke="#000" stroke-width="0.7"/>
<line x1="589.8" y1="372.3" x2="589.8" y2="371.1" stroke="#000" stroke-width="0.7"/>
<line x1="589.8" y1="244.0" x2="589.8" y2="245.2" stroke="#000" stroke-width="0.7"/>
<line x1="591.5" y1="372.3" x2="591.5" y2="371.1" stroke="#000" stroke-width="0.7"/>
<line x1="591.5" y1="244.0" x2="591.5" y2="245.2" stroke="#000" stroke-width="0.7"/>
<line x1="593.0" y1="372.3" x2="593.0" y2="371.1" stroke="#000" stroke-width="0.7"/>
<line x1="593.0" y1="244.0" x2="593.0" y2="245.2" stroke="#000" stroke-width="0.7"/>
<line x1="594.4" y1="372.3" x2="594.4" y2="370.1" stroke="#000" stroke-width="0.7"/>
<line x1="594.4" y1="244.0" x2="594.4" y2="246.2" stroke="#000" stroke-width="0.7"/>
<line x1="603.3" y1="372.3" x2="603.3" y2="371.1" stroke="#000" stroke-width="0.7"/>
<line x1="603.3" y1="244.0" x2="603.3" y2="245.2" stroke="#000" stroke-width="0.7"/>
<line x1="608.6" y1="372.3" x2="608.6" y2="371.1" stroke="#000" stroke-width="0.7"/>
<line x1="608.6" y1="244.0" x2="608.6" y2="245.2" stroke="#000" stroke-width="0.7"/>
<line x1="612.3" y1="372.3" x2="612.3" y2="371.1" stroke="#000" stroke-width="0.7"/>
<line x1="612.3" y1="244.0" x2="612.3" y2="245.2" stroke="#000" stroke-width="0.7"/>
<line x1="615.2" y1="372.3" x2="615.2" y2="371.1" stroke="#000" stroke-width="0.7"/>
<line x1="615.2" y1="244.0" x2="615.2" y2="245.2" stroke="#000" stroke-width="0.7"/>
<line x1="617.5" y1="372.3" x2="617.5" y2="371.1" stroke="#000" stroke-width="0.7"/>
<line x1="617.5" y1="244.0" x2="617.5" y2="245.2" stroke="#000" stroke-width="0.7"/>
<line x1="619.5" y1="372.3" x2="619.5" y2="371.1" stroke="#000" stroke-width="0.7"/>
<line x1="619.5" y1="244.0" x2="619.5" y2="245.2" stroke="#000" stroke-width="0.7"/>
<line x1="621.2" y1="372.3" x2="621.2" y2="371.1" stroke="#000" stroke-width="0.7"/>
<line x1="621.2" y1="244.0" x2="621.2" y2="245.2" stroke="#000" stroke-width="0.7"/>
<line x1="622.7" y1="372.3" x2="622.7" y2="371.1" stroke="#000" stroke-width="0.7"/>
<line x1="622.7" y1="244.0" x2="622.7" y2="245.2" stroke="#000" stroke-width="0.7"/>
<line x1="624.1" y1="372.3" x2="624.1" y2="370.1" stroke="#000" stroke-width="0.7"/>
<line x1="624.1" y1="244.0" x2="624.1" y2="246.2" stroke="#000" stroke-width="0.7"/>
<line x1="633.0" y1="372.3" x2="633.0" y2="371.1" stroke="#000" stroke-width="0.7"/>
<line x1="633.0" y1="244.0" x2="633.0" y2="245.2" stroke="#000" stroke-width="0.7"/>
<line x1="638.3" y1="372.3" x2="638.3" y2="371.1" stroke="#000" stroke-width="0.7"/>
<line x1="638.3" y1="244.0" x2="638.3" y2="245.2" stroke="#000" stroke-width="0.7"/>
<line x1="642.0" y1="372.3" x2="642.0" y2="371.1" stroke="#000" stroke-width="0.7"/>
<line x1="642.0" y1="244.0" x2="642.0" y2="245.2" stroke="#000" stroke-width="0.7"/>
<line x1="644.9" y1="372.3" x2="644.9" y2="371.1" stroke="#000" stroke-width="0.7"/>
<line x1="644.9" y1="244.0" x2="644.9" y2="245.2" stroke="#000" stroke-width="0.7"/>
<line x1="647.2" y1="372.3" x2="647.2" y2="371.1" stroke="#000" stroke-width="0.7"/>
<line x1="647.2" y1="244.0" x2="647.2" y2="245.2" stroke="#000" stroke-width="0.7"/>
<line x1="649.2" y1="372.3" x2="649.2" y2="371.1" stroke="#000" stroke-width="0.7"/>
<line x1="649.2" y1="244.0" x2="649.2" y2="245.2" stroke="#000" stroke-width="0.7"/>
<line x1="650.9" y1="372.3" x2="650.9" y2="371.1" stroke="#000" stroke-width="0.7"/>
<line x1="650.9" y1="244.0" x2="650.9" y2="245.2" stroke="#000" stroke-width="0.7"/>
<line x1="652.4" y1="372.3" x2="652.4" y2="371.1" stroke="#000" stroke-width="0.7"/>
<line x1="652.4" y1="244.0" x2="652.4" y2="245.2" stroke="#000" stroke-width="0.7"/>
<line x1="653.8" y1="372.3" x2="653.8" y2="370.1" stroke="#000" stroke-width="0.7"/>
<line x1="653.8" y1="244.0" x2="653.8" y2="246.2" stroke="#000" stroke-width="0.7"/>
<line x1="662.7" y1="372.3" x2="662.7" y2="371.1" stroke="#000" stroke-width="0.7"/>
<line x1="662.7" y1="244.0" x2="662.7" y2="245.2" stroke="#000" stroke-width="0.7"/>
<line x1="668.0" y1="372.3" x2="668.0" y2="371.1" stroke="#000" stroke-width="0.7"/>
<line x1="668.0" y1="244.0" x2="668.0" y2="245.2" stroke="#000" stroke-width="0.7"/>
<line x1="671.7" y1="372.3" x2="671.7" y2="371.1" stroke="#000" stroke-width="0.7"/>
<line x1="671.7" y1="244.0" x2="671.7" y2="245.2" stroke="#000" stroke-width="0.7"/>
<line x1="674.6" y1="372.3" x2="674.6" y2="371.1" stroke="#000" stroke-width="0.7"/>
<line x1="674.6" y1="244.0" x2="674.6" y2="245.2" stroke="#000" stroke-width="0.7"/>
<line x1="676.9" y1="372.3" x2="676.9" y2="371.1" stroke="#000" stroke-width="0.7"/>
<line x1="676.9" y1="244.0" x2="676.9" y2="245.2" stroke="#000" stroke-width="0.7"/>
<line x1="678.9" y1="372.3" x2="678.9" y2="371.1" stroke="#000" stroke-width="0.7"/>
<line x1="678.9" y1="244.0" x2="678.9" y2="245.2" stroke="#000" stroke-width="0.7"/>
<line x1="680.6" y1="372.3" x2="680.6" y2="371.1" stroke="#000" stroke-width="0.7"/>
<line x1="680.6" y1="244.0" x2="680.6" y2="245.2" stroke="#000" stroke-width="0.7"/>
<line x1="682.1" y1="372.3" x2="682.1" y2="371.1" stroke="#000" stroke-width="0.7"/>
<line x1="682.1" y1="244.0" x2="682.1" y2="245.2" stroke="#000" stroke-width="0.7"/>
<text x="468.7" y="249.0" font-size="11.2" fill="#222" text-anchor="end" stroke="#222" stroke-width="0.22">10<tspan dy="-4.9" font-size="8.8">2</tspan></text>
<text x="468.7" y="292.1" font-size="11.2" fill="#222" text-anchor="end" stroke="#222" stroke-width="0.22">10<tspan dy="-4.9" font-size="8.8">0</tspan></text>
<text x="468.7" y="335.2" font-size="11.2" fill="#222" text-anchor="end" stroke="#222" stroke-width="0.22">10<tspan dy="-4.9" font-size="8.8">-2</tspan></text>
<text x="468.7" y="378.3" font-size="11.2" fill="#222" text-anchor="end" stroke="#222" stroke-width="0.22">10<tspan dy="-4.9" font-size="8.8">-4</tspan></text>
<text x="475.6" y="390.8" font-size="11.2" fill="#222" text-anchor="middle" stroke="#222" stroke-width="0.22">10<tspan dy="-4.9" font-size="8.8">-2</tspan></text>
<text x="535.0" y="390.8" font-size="11.2" fill="#222" text-anchor="middle" stroke="#222" stroke-width="0.22">10<tspan dy="-4.9" font-size="8.8">0</tspan></text>
<text x="594.4" y="390.8" font-size="11.2" fill="#222" text-anchor="middle" stroke="#222" stroke-width="0.22">10<tspan dy="-4.9" font-size="8.8">2</tspan></text>
<text x="653.8" y="390.8" font-size="11.2" fill="#222" text-anchor="middle" stroke="#222" stroke-width="0.22">10<tspan dy="-4.9" font-size="8.8">4</tspan></text>
<text x="475.6" y="236.6" font-size="11.2" fill="#78b93c" text-anchor="middle" stroke="#78b93c" stroke-width="0.22">10<tspan dy="-4.9" font-size="8.8">2</tspan></text>
<text x="535.0" y="236.6" font-size="11.2" fill="#78b93c" text-anchor="middle" stroke="#78b93c" stroke-width="0.22">10<tspan dy="-4.9" font-size="8.8">0</tspan></text>
<text x="592.6" y="236.6" font-size="11.2" fill="#78b93c" text-anchor="middle" stroke="#78b93c" stroke-width="0.22">10<tspan dy="-4.9" font-size="8.8">-2</tspan></text>
<text x="652.0" y="236.6" font-size="11.2" fill="#78b93c" text-anchor="middle" stroke="#78b93c" stroke-width="0.22">10<tspan dy="-4.9" font-size="8.8">-4</tspan></text>
<text x="527.0" y="405.8" font-size="11.5" fill="#222" textLength="102.5" lengthAdjust="spacingAndGlyphs" stroke="#222" stroke-width="0.22">Frequency <tspan font-family="Liberation Serif" font-style="italic">ω</tspan> [rad/s]</text>
<text x="542.5" y="217.5" font-size="11.5" fill="#78b93c" textLength="70" lengthAdjust="spacingAndGlyphs" stroke="#78b93c" stroke-width="0.22">Lag time <tspan font-family="Liberation Serif" font-style="italic">τ</tspan> [s]</text>
<text transform="translate(441.2,307.6) rotate(-90)" font-size="11.5" text-anchor="middle" fill="#222" textLength="104.5" lengthAdjust="spacingAndGlyphs" stroke="#222" stroke-width="0.22">Stiffness <tspan font-family="Liberation Serif" font-style="italic">κ</tspan>* [pN/nm]</text>
<text x="481.0" y="61.0" font-size="12.2" font-weight="bold" fill="#3a3a3a" textLength="21.8" lengthAdjust="spacingAndGlyphs">WT</text>
<text x="507.8" y="61.0" font-size="12.2" font-style="italic" fill="#6e6e6e" textLength="23.0" lengthAdjust="spacingAndGlyphs" stroke="#6e6e6e" stroke-width="0.22">fast</text>
<text x="481.0" y="268.9" font-size="12.2" font-weight="bold" fill="#3a3a3a" textLength="21.8" lengthAdjust="spacingAndGlyphs">WT</text>
<text x="507.8" y="268.9" font-size="12.2" font-style="italic" fill="#6e6e6e" textLength="28.0" lengthAdjust="spacingAndGlyphs" stroke="#6e6e6e" stroke-width="0.22">slow</text>
<text x="488.2" y="148.1" font-size="12.0" text-anchor="start" fill="#a0a0a0" font-weight="normal" font-style="normal" textLength="56.6" lengthAdjust="spacingAndGlyphs" stroke="#a0a0a0" stroke-width="0.22">Elastic gel</text>
<text x="631.7" y="136.7" font-size="12.0" text-anchor="start" fill="#a0a0a0" font-weight="normal" font-style="normal" textLength="43.3" lengthAdjust="spacingAndGlyphs" stroke="#a0a0a0" stroke-width="0.22">Viscous</text>
<text x="594.3" y="152.6" font-size="12.0" text-anchor="start" fill="#a0a0a0" font-weight="normal" font-style="normal" textLength="84.6" lengthAdjust="spacingAndGlyphs" stroke="#a0a0a0" stroke-width="0.22">re-organisation</text>
<rect x="544.2" y="250.2" width="133.8" height="32.1" fill="#fff" stroke="#222" stroke-width="0.9"/>
<line x1="547.4" y1="259.5" x2="571.8" y2="259.5" stroke="#ff1e1e" stroke-width="1"/><circle cx="559.5" cy="259.5" r="2.5" fill="none" stroke="#ff1e1e" stroke-width="1"/>
<line x1="547.4" y1="273.5" x2="571.8" y2="273.5" stroke="#1414ff" stroke-width="1"/><circle cx="559.5" cy="273.5" r="2.5" fill="none" stroke="#1414ff" stroke-width="1"/>
<text x="574.5" y="262.9" font-size="12" fill="#222" stroke="#222" stroke-width="0.22"><tspan font-family="Liberation Serif" font-style="italic">κ</tspan>' BM</text>
<text x="574.5" y="277.5" font-size="12" fill="#222" stroke="#222" stroke-width="0.22"><tspan font-family="Liberation Serif" font-style="italic">κ</tspan>" BM</text>
<text x="640.5" y="262.9" font-size="12" fill="#222" stroke="#222" stroke-width="0.22"><tspan font-family="Liberation Serif" font-style="italic">κ</tspan>' OM</text>
<text x="640.5" y="277.5" font-size="12" fill="#222" stroke="#222" stroke-width="0.22"><tspan font-family="Liberation Serif" font-style="italic">κ</tspan>" OM</text>
<line x1="625.3" y1="253.0" x2="625.3" y2="265.0" stroke="#454545" stroke-width="1"/>
<polygon points="625.3,255.2 628.3,259.0 625.3,262.8 622.3,259.0" fill="#666" stroke="#3a3a3a" stroke-width="0.7"/>
<line x1="623.1" y1="253" x2="627.5" y2="253" stroke="#454545"/><line x1="623.1" y1="265" x2="627.5" y2="265" stroke="#454545"/>
<line x1="625.3" y1="267.5" x2="625.3" y2="279.5" stroke="#454545" stroke-width="1.2"/>
<line x1="622.9" y1="267.5" x2="627.7" y2="267.5" stroke="#454545" stroke-width="1.1"/>
<line x1="622.9" y1="279.5" x2="627.7" y2="279.5" stroke="#454545" stroke-width="1.1"/>
<polygon points="625.3,270.2 628.0,273.4 625.3,276.6 622.6,273.4" fill="#b8b8b8" fill-opacity="0.55" stroke="#404040" stroke-width="1.1"/>
<line x1="625.3" y1="270.4" x2="625.3" y2="276.4" stroke="#555" stroke-width="0.6"/>
</svg>
</body></html>
